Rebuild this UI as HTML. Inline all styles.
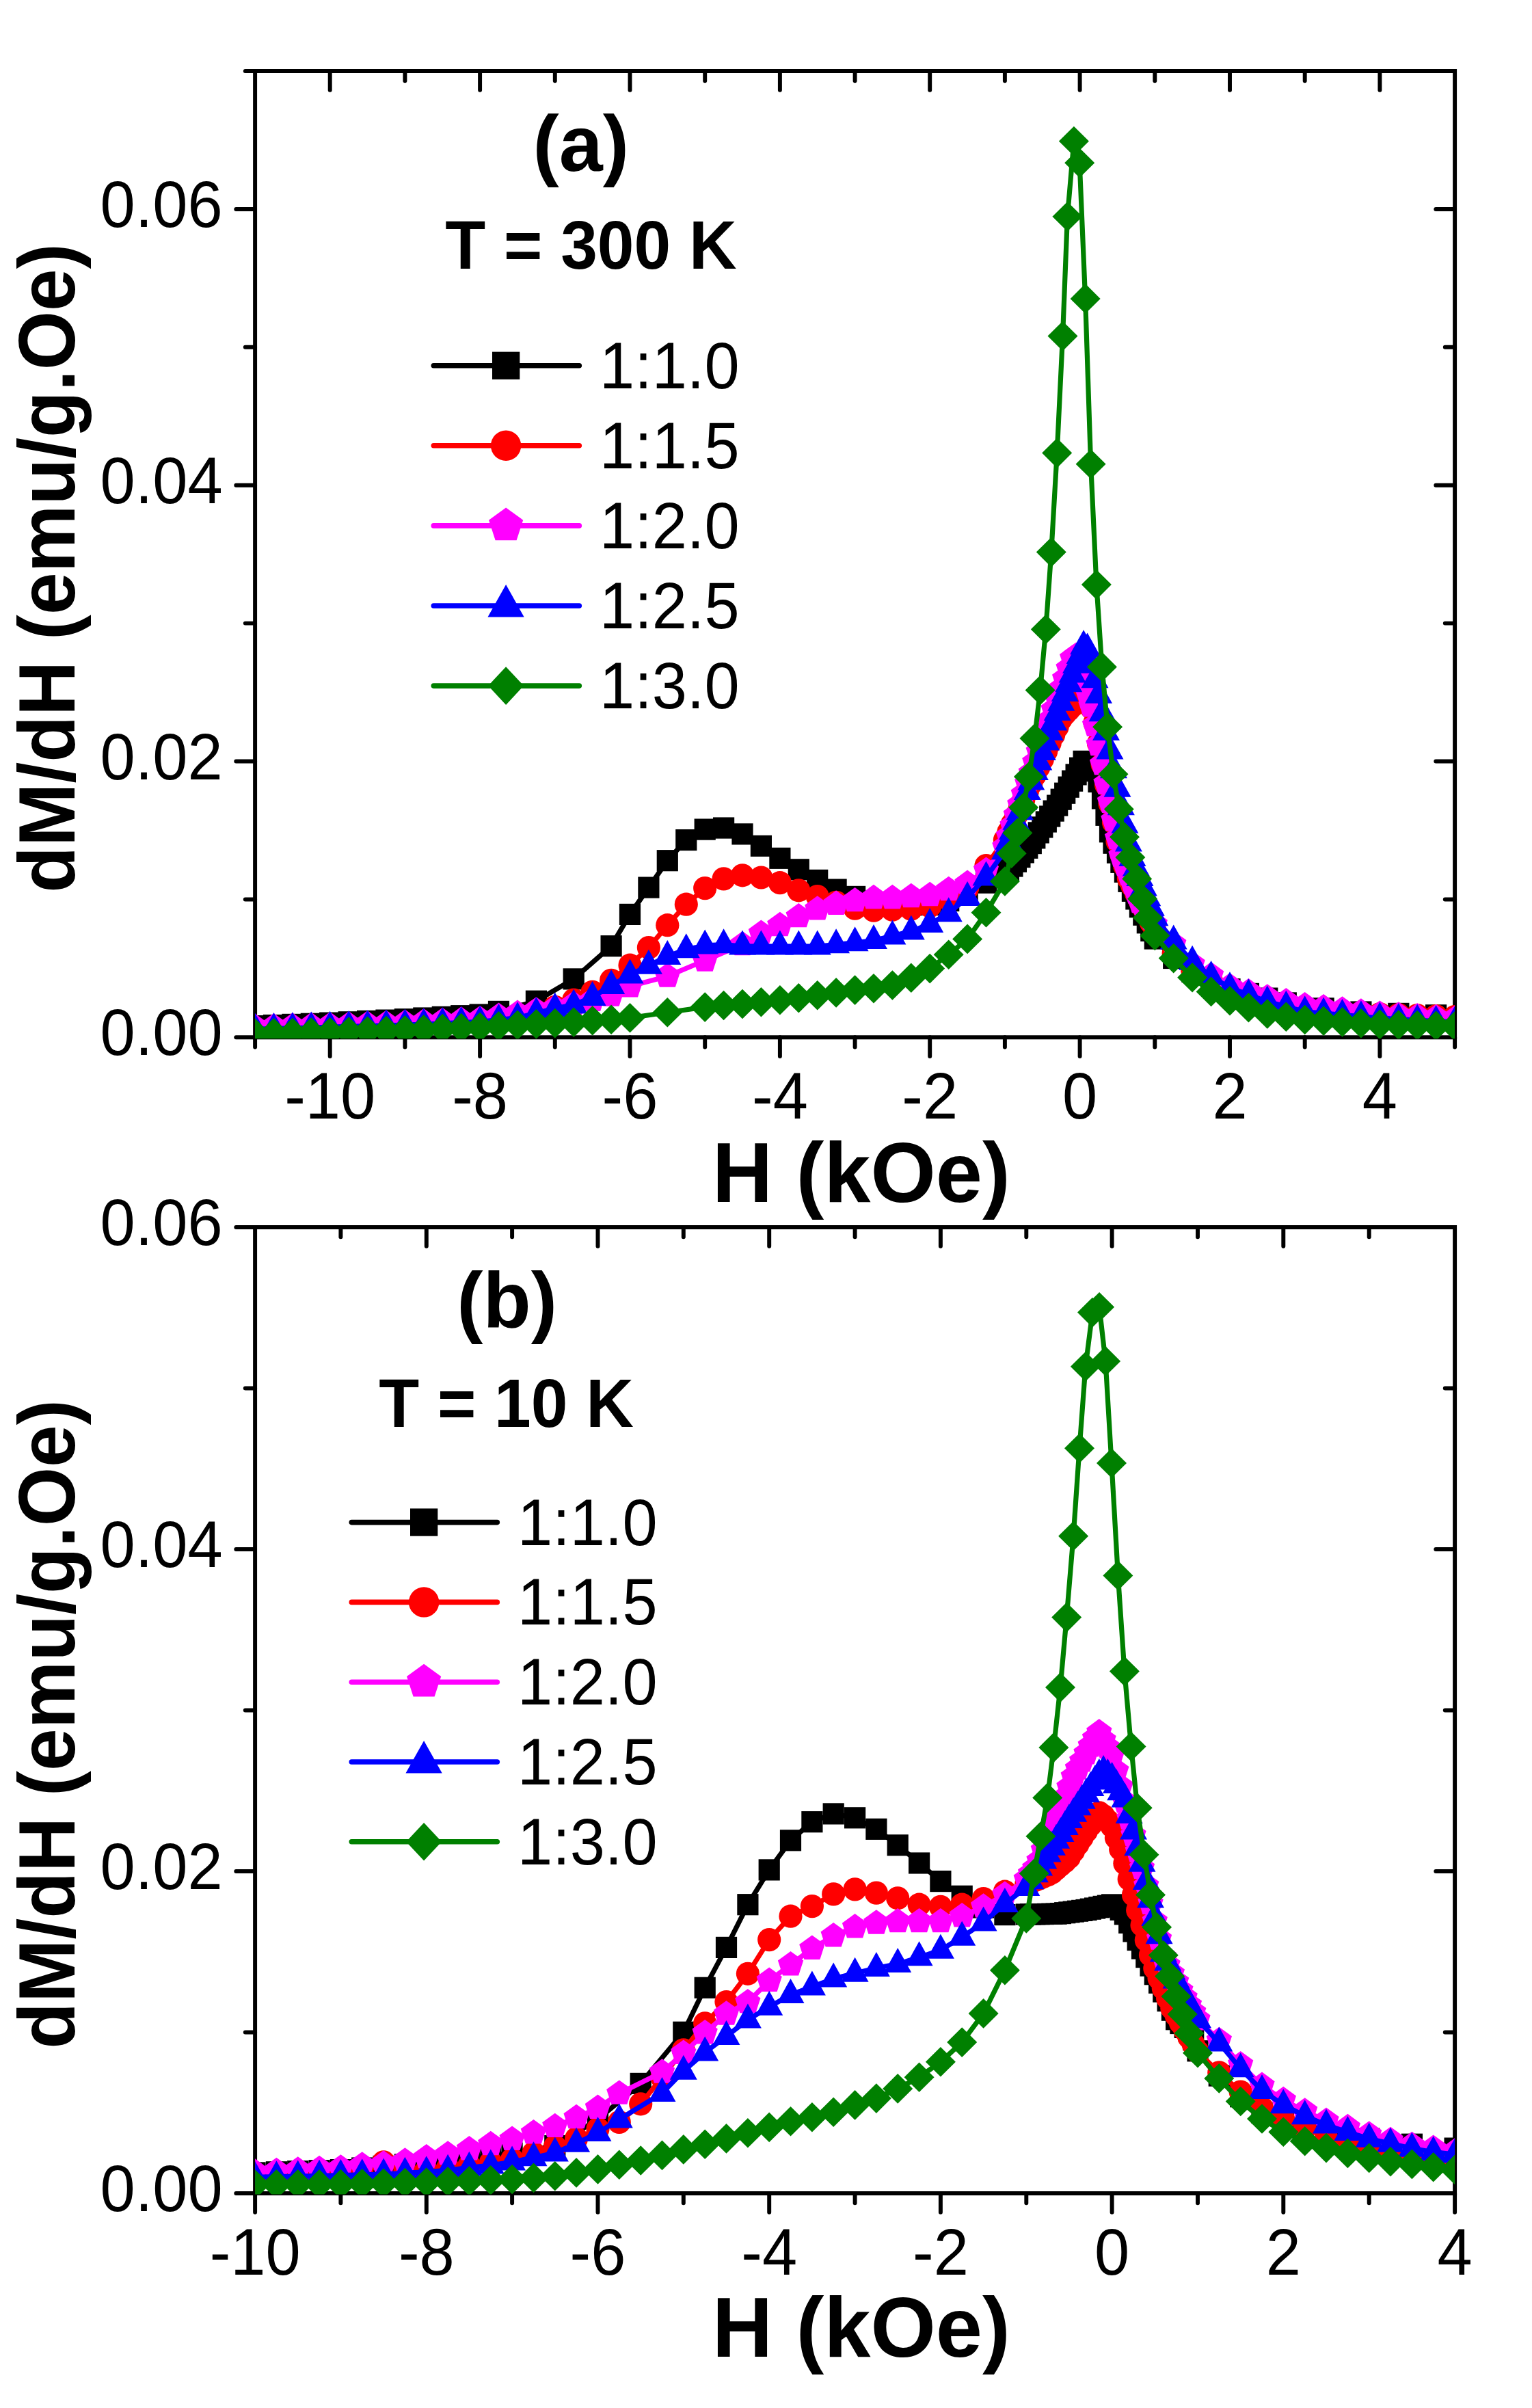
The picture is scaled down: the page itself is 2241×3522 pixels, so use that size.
<!DOCTYPE html>
<html lang="en">
<head>
<meta charset="utf-8">
<title>dM/dH vs H</title>
<style>
html,body{margin:0;padding:0;background:#fff;}
body{width:2241px;height:3522px;overflow:hidden;}
svg{display:block;}
text{font-family:"Liberation Sans",Arial,Helvetica,sans-serif;fill:#000;}
.tl{font-size:92px;}
.xt{font-size:122.6px;font-weight:bold;}
.yt{font-size:111px;font-weight:bold;}
.pl{font-size:115px;font-weight:bold;}
.tt{font-size:96.5px;font-weight:bold;}
</style>
</head>
<body>
<svg width="2241" height="3522" viewBox="0 0 2241 3522">
<rect width="2241" height="3522" fill="#fff"/>
<g stroke="#000" stroke-width="5.95" stroke-linecap="round" fill="none">
<path d="M373.1 104H2128.1V1517.3H373.1Z" stroke-linejoin="miter" stroke-linecap="butt"/>
<path d="M373.1 1517.3v14.3"/>
<path d="M482.7 1517.3v27.8"/>
<path d="M482.7 104v27.8"/>
<path d="M592.4 1517.3v14.3"/>
<path d="M592.4 104v14.3"/>
<path d="M702.1 1517.3v27.8"/>
<path d="M702.1 104v27.8"/>
<path d="M811.8 1517.3v14.3"/>
<path d="M811.8 104v14.3"/>
<path d="M921.5 1517.3v27.8"/>
<path d="M921.5 104v27.8"/>
<path d="M1031.2 1517.3v14.3"/>
<path d="M1031.2 104v14.3"/>
<path d="M1140.9 1517.3v27.8"/>
<path d="M1140.9 104v27.8"/>
<path d="M1250.6 1517.3v14.3"/>
<path d="M1250.6 104v14.3"/>
<path d="M1360.2 1517.3v27.8"/>
<path d="M1360.2 104v27.8"/>
<path d="M1469.9 1517.3v14.3"/>
<path d="M1469.9 104v14.3"/>
<path d="M1579.6 1517.3v27.8"/>
<path d="M1579.6 104v27.8"/>
<path d="M1689.3 1517.3v14.3"/>
<path d="M1689.3 104v14.3"/>
<path d="M1799 1517.3v27.8"/>
<path d="M1799 104v27.8"/>
<path d="M1908.7 1517.3v14.3"/>
<path d="M1908.7 104v14.3"/>
<path d="M2018.4 1517.3v27.8"/>
<path d="M2018.4 104v27.8"/>
<path d="M2128.1 1517.3v14.3"/>
<path d="M373.1 1517.3h-27.8"/>
<path d="M373.1 1315.4h-14.3"/>
<path d="M2128.1 1315.4h-14.3"/>
<path d="M373.1 1113.5h-27.8"/>
<path d="M2128.1 1113.5h-27.8"/>
<path d="M373.1 911.6h-14.3"/>
<path d="M2128.1 911.6h-14.3"/>
<path d="M373.1 709.7h-27.8"/>
<path d="M2128.1 709.7h-27.8"/>
<path d="M373.1 507.8h-14.3"/>
<path d="M2128.1 507.8h-14.3"/>
<path d="M373.1 305.9h-27.8"/>
<path d="M2128.1 305.9h-27.8"/>
<path d="M373.1 104h-14.3"/>
</g>
<clipPath id="clipa"><rect x="373.1" y="104" width="1755" height="1414.9"/></clipPath>
<g clip-path="url(#clipa)">
<g fill="#000000" stroke="none">
<polyline fill="none" stroke="#000000" stroke-width="7.2" stroke-linejoin="round" points="345.6,1501.6 373.1,1500.6 400.5,1499.5 427.9,1498.4 455.3,1497.3 482.7,1496.1 510.2,1494.8 537.6,1493.4 565,1492.1 592.4,1490.7 619.8,1489 647.3,1487.4 674.7,1485.7 702.1,1484 729.5,1479.4 784.4,1464.2 839.2,1431.9 894.1,1383.7 921.5,1337.4 948.9,1298.1 976.3,1258.7 1003.8,1228.6 1031.2,1213.1 1058.6,1211 1086,1219.9 1113.4,1237.3 1140.9,1255.3 1168.3,1271.8 1195.7,1287.4 1223.1,1301.1 1250.6,1311.4 1278,1321.5 1305.4,1323.5 1332.8,1323.5 1360.2,1323.5 1387.7,1317.5 1415.1,1307.4 1442.5,1291.2 1469.9,1279.1 1475.4,1273 1480.9,1267 1486.4,1260.3 1491.9,1253.6 1497.3,1246.9 1502.8,1240.3 1508.3,1233.6 1513.8,1225.8 1519.3,1217.9 1524.8,1209.9 1530.3,1202 1535.7,1194 1541.2,1186.1 1546.7,1178.1 1552.2,1169.2 1557.7,1160.2 1563.2,1151.2 1568.6,1142.2 1574.1,1132.9 1579.6,1123.2 1585.1,1113.4 1590.6,1114.2 1596.1,1117.6 1601.5,1127.7 1607,1143.5 1612.5,1167.9 1618,1192.3 1623.5,1216.7 1629,1233.2 1634.5,1247.2 1639.9,1261.3 1645.4,1275.3 1650.9,1289.3 1656.4,1303.3 1661.9,1314.9 1667.4,1326.6 1672.8,1338.2 1678.3,1349.8 1683.8,1361.4 1689.3,1373 1716.7,1401.5 1744.1,1421.6 1771.6,1434.3 1799,1446.7 1826.4,1453.4 1853.8,1460.1 1881.3,1466.9 1936.1,1474.8 1990.9,1480 2045.8,1482.4 2100.6,1484.8 2155.5,1486.6"/>
<rect x="330" y="1486" width="31.2" height="31.2"/>
<rect x="357.4" y="1485" width="31.2" height="31.2"/>
<rect x="384.9" y="1483.9" width="31.2" height="31.2"/>
<rect x="412.3" y="1482.8" width="31.2" height="31.2"/>
<rect x="439.7" y="1481.7" width="31.2" height="31.2"/>
<rect x="467.1" y="1480.5" width="31.2" height="31.2"/>
<rect x="494.6" y="1479.2" width="31.2" height="31.2"/>
<rect x="522" y="1477.8" width="31.2" height="31.2"/>
<rect x="549.4" y="1476.5" width="31.2" height="31.2"/>
<rect x="576.8" y="1475.1" width="31.2" height="31.2"/>
<rect x="604.2" y="1473.4" width="31.2" height="31.2"/>
<rect x="631.7" y="1471.8" width="31.2" height="31.2"/>
<rect x="659.1" y="1470.1" width="31.2" height="31.2"/>
<rect x="686.5" y="1468.4" width="31.2" height="31.2"/>
<rect x="713.9" y="1463.8" width="31.2" height="31.2"/>
<rect x="768.8" y="1448.6" width="31.2" height="31.2"/>
<rect x="823.6" y="1416.3" width="31.2" height="31.2"/>
<rect x="878.5" y="1368.1" width="31.2" height="31.2"/>
<rect x="905.9" y="1321.8" width="31.2" height="31.2"/>
<rect x="933.3" y="1282.5" width="31.2" height="31.2"/>
<rect x="960.7" y="1243.1" width="31.2" height="31.2"/>
<rect x="988.2" y="1213" width="31.2" height="31.2"/>
<rect x="1015.6" y="1197.5" width="31.2" height="31.2"/>
<rect x="1043" y="1195.4" width="31.2" height="31.2"/>
<rect x="1070.4" y="1204.3" width="31.2" height="31.2"/>
<rect x="1097.8" y="1221.7" width="31.2" height="31.2"/>
<rect x="1125.3" y="1239.7" width="31.2" height="31.2"/>
<rect x="1152.7" y="1256.2" width="31.2" height="31.2"/>
<rect x="1180.1" y="1271.8" width="31.2" height="31.2"/>
<rect x="1207.5" y="1285.5" width="31.2" height="31.2"/>
<rect x="1235" y="1295.8" width="31.2" height="31.2"/>
<rect x="1262.4" y="1305.9" width="31.2" height="31.2"/>
<rect x="1289.8" y="1307.9" width="31.2" height="31.2"/>
<rect x="1317.2" y="1307.9" width="31.2" height="31.2"/>
<rect x="1344.6" y="1307.9" width="31.2" height="31.2"/>
<rect x="1372.1" y="1301.9" width="31.2" height="31.2"/>
<rect x="1399.5" y="1291.8" width="31.2" height="31.2"/>
<rect x="1426.9" y="1275.6" width="31.2" height="31.2"/>
<rect x="1454.3" y="1263.5" width="31.2" height="31.2"/>
<rect x="1459.8" y="1257.4" width="31.2" height="31.2"/>
<rect x="1465.3" y="1251.4" width="31.2" height="31.2"/>
<rect x="1470.8" y="1244.7" width="31.2" height="31.2"/>
<rect x="1476.3" y="1238" width="31.2" height="31.2"/>
<rect x="1481.7" y="1231.3" width="31.2" height="31.2"/>
<rect x="1487.2" y="1224.7" width="31.2" height="31.2"/>
<rect x="1492.7" y="1218" width="31.2" height="31.2"/>
<rect x="1498.2" y="1210.2" width="31.2" height="31.2"/>
<rect x="1503.7" y="1202.3" width="31.2" height="31.2"/>
<rect x="1509.2" y="1194.3" width="31.2" height="31.2"/>
<rect x="1514.7" y="1186.4" width="31.2" height="31.2"/>
<rect x="1520.1" y="1178.4" width="31.2" height="31.2"/>
<rect x="1525.6" y="1170.5" width="31.2" height="31.2"/>
<rect x="1531.1" y="1162.5" width="31.2" height="31.2"/>
<rect x="1536.6" y="1153.6" width="31.2" height="31.2"/>
<rect x="1542.1" y="1144.6" width="31.2" height="31.2"/>
<rect x="1547.6" y="1135.6" width="31.2" height="31.2"/>
<rect x="1553" y="1126.6" width="31.2" height="31.2"/>
<rect x="1558.5" y="1117.3" width="31.2" height="31.2"/>
<rect x="1564" y="1107.6" width="31.2" height="31.2"/>
<rect x="1569.5" y="1097.8" width="31.2" height="31.2"/>
<rect x="1575" y="1098.6" width="31.2" height="31.2"/>
<rect x="1580.5" y="1102" width="31.2" height="31.2"/>
<rect x="1586" y="1112.1" width="31.2" height="31.2"/>
<rect x="1591.4" y="1127.9" width="31.2" height="31.2"/>
<rect x="1596.9" y="1152.3" width="31.2" height="31.2"/>
<rect x="1602.4" y="1176.7" width="31.2" height="31.2"/>
<rect x="1607.9" y="1201.1" width="31.2" height="31.2"/>
<rect x="1613.4" y="1217.6" width="31.2" height="31.2"/>
<rect x="1618.9" y="1231.6" width="31.2" height="31.2"/>
<rect x="1624.3" y="1245.7" width="31.2" height="31.2"/>
<rect x="1629.8" y="1259.7" width="31.2" height="31.2"/>
<rect x="1635.3" y="1273.7" width="31.2" height="31.2"/>
<rect x="1640.8" y="1287.7" width="31.2" height="31.2"/>
<rect x="1646.3" y="1299.3" width="31.2" height="31.2"/>
<rect x="1651.8" y="1311" width="31.2" height="31.2"/>
<rect x="1657.2" y="1322.6" width="31.2" height="31.2"/>
<rect x="1662.7" y="1334.2" width="31.2" height="31.2"/>
<rect x="1668.2" y="1345.8" width="31.2" height="31.2"/>
<rect x="1673.7" y="1357.4" width="31.2" height="31.2"/>
<rect x="1701.1" y="1385.9" width="31.2" height="31.2"/>
<rect x="1728.5" y="1406" width="31.2" height="31.2"/>
<rect x="1756" y="1418.7" width="31.2" height="31.2"/>
<rect x="1783.4" y="1431.1" width="31.2" height="31.2"/>
<rect x="1810.8" y="1437.8" width="31.2" height="31.2"/>
<rect x="1838.2" y="1444.5" width="31.2" height="31.2"/>
<rect x="1865.7" y="1451.3" width="31.2" height="31.2"/>
<rect x="1920.5" y="1459.2" width="31.2" height="31.2"/>
<rect x="1975.3" y="1464.4" width="31.2" height="31.2"/>
<rect x="2030.2" y="1466.8" width="31.2" height="31.2"/>
<rect x="2085" y="1469.2" width="31.2" height="31.2"/>
<rect x="2139.9" y="1471" width="31.2" height="31.2"/>
</g>
<g fill="#ff0000" stroke="none">
<polyline fill="none" stroke="#ff0000" stroke-width="7.2" stroke-linejoin="round" points="373.1,1507.3 400.5,1506.7 427.9,1506.2 455.3,1505.7 482.7,1505.2 510.2,1504.2 537.6,1503.2 565,1502.2 592.4,1501.2 619.8,1499.7 647.3,1498.2 674.7,1496.7 702.1,1495.1 729.5,1490.1 757,1485 784.4,1479 811.8,1472.9 839.2,1462.6 866.6,1450.9 894.1,1433.8 921.5,1411.7 948.9,1386.1 976.3,1353.2 1003.8,1322.7 1031.2,1299.1 1058.6,1285.4 1086,1280.3 1113.4,1283.5 1140.9,1291.2 1168.3,1302.3 1195.7,1311 1223.1,1319.9 1250.6,1328.6 1278,1331.6 1305.4,1330.6 1332.8,1329.6 1360.2,1325.5 1387.7,1315.4 1415.1,1299.3 1442.5,1266 1469.9,1228.6 1475.4,1216.8 1480.9,1205 1486.4,1193.1 1491.9,1181.3 1497.3,1169.5 1502.8,1157.7 1508.3,1145.9 1513.8,1134 1519.3,1122.2 1524.8,1110.4 1530.3,1098.6 1535.7,1086.7 1541.2,1074.9 1546.7,1063.1 1552.2,1051.3 1557.7,1044.2 1563.2,1038.4 1568.6,1032.6 1574.1,1026.8 1579.6,1021 1585.1,1016.4 1590.6,1012.6 1596.1,1034.8 1601.5,1057 1607,1087.3 1612.5,1117.6 1618,1147.8 1623.5,1175.4 1629,1203 1634.5,1230.6 1639.9,1248.8 1645.4,1267 1650.9,1285.1 1656.4,1295.8 1661.9,1306.5 1667.4,1317.2 1672.8,1327.8 1678.3,1338.5 1683.8,1349.2 1689.3,1359.9 1716.7,1394.2 1744.1,1418.4 1771.6,1433.6 1799,1448.7 1826.4,1455.3 1853.8,1461.8 1881.3,1468.4 1908.7,1474.9 1936.1,1477 1963.5,1479 1990.9,1481 2018.4,1483 2045.8,1484 2073.2,1485 2100.6,1486.1 2128.1,1487.1"/>
<circle cx="373.1" cy="1507.3" r="17.1"/>
<circle cx="400.5" cy="1506.7" r="17.1"/>
<circle cx="427.9" cy="1506.2" r="17.1"/>
<circle cx="455.3" cy="1505.7" r="17.1"/>
<circle cx="482.7" cy="1505.2" r="17.1"/>
<circle cx="510.2" cy="1504.2" r="17.1"/>
<circle cx="537.6" cy="1503.2" r="17.1"/>
<circle cx="565" cy="1502.2" r="17.1"/>
<circle cx="592.4" cy="1501.2" r="17.1"/>
<circle cx="619.8" cy="1499.7" r="17.1"/>
<circle cx="647.3" cy="1498.2" r="17.1"/>
<circle cx="674.7" cy="1496.7" r="17.1"/>
<circle cx="702.1" cy="1495.1" r="17.1"/>
<circle cx="729.5" cy="1490.1" r="17.1"/>
<circle cx="757" cy="1485" r="17.1"/>
<circle cx="784.4" cy="1479" r="17.1"/>
<circle cx="811.8" cy="1472.9" r="17.1"/>
<circle cx="839.2" cy="1462.6" r="17.1"/>
<circle cx="866.6" cy="1450.9" r="17.1"/>
<circle cx="894.1" cy="1433.8" r="17.1"/>
<circle cx="921.5" cy="1411.7" r="17.1"/>
<circle cx="948.9" cy="1386.1" r="17.1"/>
<circle cx="976.3" cy="1353.2" r="17.1"/>
<circle cx="1003.8" cy="1322.7" r="17.1"/>
<circle cx="1031.2" cy="1299.1" r="17.1"/>
<circle cx="1058.6" cy="1285.4" r="17.1"/>
<circle cx="1086" cy="1280.3" r="17.1"/>
<circle cx="1113.4" cy="1283.5" r="17.1"/>
<circle cx="1140.9" cy="1291.2" r="17.1"/>
<circle cx="1168.3" cy="1302.3" r="17.1"/>
<circle cx="1195.7" cy="1311" r="17.1"/>
<circle cx="1223.1" cy="1319.9" r="17.1"/>
<circle cx="1250.6" cy="1328.6" r="17.1"/>
<circle cx="1278" cy="1331.6" r="17.1"/>
<circle cx="1305.4" cy="1330.6" r="17.1"/>
<circle cx="1332.8" cy="1329.6" r="17.1"/>
<circle cx="1360.2" cy="1325.5" r="17.1"/>
<circle cx="1387.7" cy="1315.4" r="17.1"/>
<circle cx="1415.1" cy="1299.3" r="17.1"/>
<circle cx="1442.5" cy="1266" r="17.1"/>
<circle cx="1469.9" cy="1228.6" r="17.1"/>
<circle cx="1475.4" cy="1216.8" r="17.1"/>
<circle cx="1480.9" cy="1205" r="17.1"/>
<circle cx="1486.4" cy="1193.1" r="17.1"/>
<circle cx="1491.9" cy="1181.3" r="17.1"/>
<circle cx="1497.3" cy="1169.5" r="17.1"/>
<circle cx="1502.8" cy="1157.7" r="17.1"/>
<circle cx="1508.3" cy="1145.9" r="17.1"/>
<circle cx="1513.8" cy="1134" r="17.1"/>
<circle cx="1519.3" cy="1122.2" r="17.1"/>
<circle cx="1524.8" cy="1110.4" r="17.1"/>
<circle cx="1530.3" cy="1098.6" r="17.1"/>
<circle cx="1535.7" cy="1086.7" r="17.1"/>
<circle cx="1541.2" cy="1074.9" r="17.1"/>
<circle cx="1546.7" cy="1063.1" r="17.1"/>
<circle cx="1552.2" cy="1051.3" r="17.1"/>
<circle cx="1557.7" cy="1044.2" r="17.1"/>
<circle cx="1563.2" cy="1038.4" r="17.1"/>
<circle cx="1568.6" cy="1032.6" r="17.1"/>
<circle cx="1574.1" cy="1026.8" r="17.1"/>
<circle cx="1579.6" cy="1021" r="17.1"/>
<circle cx="1585.1" cy="1016.4" r="17.1"/>
<circle cx="1590.6" cy="1012.6" r="17.1"/>
<circle cx="1596.1" cy="1034.8" r="17.1"/>
<circle cx="1601.5" cy="1057" r="17.1"/>
<circle cx="1607" cy="1087.3" r="17.1"/>
<circle cx="1612.5" cy="1117.6" r="17.1"/>
<circle cx="1618" cy="1147.8" r="17.1"/>
<circle cx="1623.5" cy="1175.4" r="17.1"/>
<circle cx="1629" cy="1203" r="17.1"/>
<circle cx="1634.5" cy="1230.6" r="17.1"/>
<circle cx="1639.9" cy="1248.8" r="17.1"/>
<circle cx="1645.4" cy="1267" r="17.1"/>
<circle cx="1650.9" cy="1285.1" r="17.1"/>
<circle cx="1656.4" cy="1295.8" r="17.1"/>
<circle cx="1661.9" cy="1306.5" r="17.1"/>
<circle cx="1667.4" cy="1317.2" r="17.1"/>
<circle cx="1672.8" cy="1327.8" r="17.1"/>
<circle cx="1678.3" cy="1338.5" r="17.1"/>
<circle cx="1683.8" cy="1349.2" r="17.1"/>
<circle cx="1689.3" cy="1359.9" r="17.1"/>
<circle cx="1716.7" cy="1394.2" r="17.1"/>
<circle cx="1744.1" cy="1418.4" r="17.1"/>
<circle cx="1771.6" cy="1433.6" r="17.1"/>
<circle cx="1799" cy="1448.7" r="17.1"/>
<circle cx="1826.4" cy="1455.3" r="17.1"/>
<circle cx="1853.8" cy="1461.8" r="17.1"/>
<circle cx="1881.3" cy="1468.4" r="17.1"/>
<circle cx="1908.7" cy="1474.9" r="17.1"/>
<circle cx="1936.1" cy="1477" r="17.1"/>
<circle cx="1963.5" cy="1479" r="17.1"/>
<circle cx="1990.9" cy="1481" r="17.1"/>
<circle cx="2018.4" cy="1483" r="17.1"/>
<circle cx="2045.8" cy="1484" r="17.1"/>
<circle cx="2073.2" cy="1485" r="17.1"/>
<circle cx="2100.6" cy="1486.1" r="17.1"/>
<circle cx="2128.1" cy="1487.1" r="17.1"/>
</g>
<g fill="#ff00ff" stroke="none">
<polyline fill="none" stroke="#ff00ff" stroke-width="7.2" stroke-linejoin="round" points="373.1,1502.2 400.5,1501.6 427.9,1500.9 455.3,1500.2 482.7,1499.6 510.2,1498.7 537.6,1497.9 565,1497 592.4,1496.1 619.8,1494.7 647.3,1493.3 674.7,1491.9 702.1,1490.5 729.5,1486.1 757,1482.2 784.4,1477.8 811.8,1474.3 839.2,1468.9 866.6,1463.2 894.1,1456 921.5,1442.6 976.3,1427.9 1031.2,1404.9 1086,1381.5 1113.4,1365.1 1140.9,1353.4 1168.3,1340.5 1195.7,1329.8 1223.1,1322.1 1250.6,1317.5 1278,1313.4 1305.4,1313.4 1332.8,1311.4 1360.2,1309.4 1387.7,1301.3 1415.1,1292.2 1442.5,1273 1469.9,1238.7 1475.4,1223.3 1480.9,1207.8 1486.4,1192.4 1491.9,1176.9 1497.3,1161.5 1502.8,1146.1 1508.3,1130.6 1513.8,1115.2 1519.3,1099.7 1524.8,1084.3 1530.3,1068.8 1535.7,1053.4 1541.2,1038 1546.7,1022.6 1552.2,1007.7 1557.7,992.8 1563.2,977.9 1568.6,963 1574.1,959.2 1579.6,972.2 1585.1,992.4 1590.6,1012.6 1596.1,1032.8 1601.5,1061.1 1607,1089.4 1612.5,1117.7 1618,1146 1623.5,1173.1 1629,1199.7 1634.5,1226.3 1639.9,1251.9 1645.4,1265.4 1650.9,1278.9 1656.4,1292.4 1661.9,1306 1667.4,1319.5 1672.8,1327.6 1678.3,1335.6 1683.8,1343.7 1689.3,1351.8 1716.7,1381.1 1744.1,1410.3 1771.6,1426.5 1799,1442.6 1826.4,1450.7 1853.8,1458.8 1881.3,1464.7 1908.7,1470.5 1936.1,1473.6 1963.5,1476.8 1990.9,1479.9 2018.4,1483 2045.8,1484.8 2073.2,1486.6 2100.6,1488.3 2128.1,1490.1"/>
<polygon points="373.1,1482.6 391.7,1496.1 384.6,1518.1 361.5,1518.1 354.4,1496.1"/>
<polygon points="400.5,1482 419.1,1495.5 412,1517.4 389,1517.4 381.8,1495.5"/>
<polygon points="427.9,1481.3 446.5,1494.8 439.4,1516.8 416.4,1516.8 409.3,1494.8"/>
<polygon points="455.3,1480.6 474,1494.2 466.8,1516.1 443.8,1516.1 436.7,1494.2"/>
<polygon points="482.7,1480 501.4,1493.5 494.3,1515.4 471.2,1515.4 464.1,1493.5"/>
<polygon points="510.2,1479.1 528.8,1492.7 521.7,1514.6 498.6,1514.6 491.5,1492.7"/>
<polygon points="537.6,1478.3 556.2,1491.8 549.1,1513.7 526.1,1513.7 518.9,1491.8"/>
<polygon points="565,1477.4 583.6,1491 576.5,1512.9 553.5,1512.9 546.4,1491"/>
<polygon points="592.4,1476.5 611.1,1490.1 603.9,1512 580.9,1512 573.8,1490.1"/>
<polygon points="619.8,1475.1 638.5,1488.7 631.4,1510.6 608.3,1510.6 601.2,1488.7"/>
<polygon points="647.3,1473.7 665.9,1487.3 658.8,1509.2 635.7,1509.2 628.6,1487.3"/>
<polygon points="674.7,1472.3 693.3,1485.9 686.2,1507.8 663.2,1507.8 656,1485.9"/>
<polygon points="702.1,1470.9 720.8,1484.4 713.6,1506.4 690.6,1506.4 683.5,1484.4"/>
<polygon points="729.5,1466.5 748.2,1480 741.1,1501.9 718,1501.9 710.9,1480"/>
<polygon points="757,1462.6 775.6,1476.2 768.5,1498.1 745.4,1498.1 738.3,1476.2"/>
<polygon points="784.4,1458.2 803,1471.7 795.9,1493.6 772.9,1493.6 765.7,1471.7"/>
<polygon points="811.8,1454.7 830.4,1468.3 823.3,1490.2 800.3,1490.2 793.2,1468.3"/>
<polygon points="839.2,1449.3 857.9,1462.8 850.7,1484.7 827.7,1484.7 820.6,1462.8"/>
<polygon points="866.6,1443.6 885.3,1457.2 878.2,1479.1 855.1,1479.1 848,1457.2"/>
<polygon points="894.1,1436.4 912.7,1449.9 905.6,1471.8 882.5,1471.8 875.4,1449.9"/>
<polygon points="921.5,1423 940.1,1436.6 933,1458.5 910,1458.5 902.8,1436.6"/>
<polygon points="976.3,1408.3 995,1421.8 987.9,1443.8 964.8,1443.8 957.7,1421.8"/>
<polygon points="1031.2,1385.3 1049.8,1398.8 1042.7,1420.7 1019.7,1420.7 1012.5,1398.8"/>
<polygon points="1086,1361.9 1104.7,1375.4 1097.5,1397.3 1074.5,1397.3 1067.4,1375.4"/>
<polygon points="1113.4,1345.5 1132.1,1359 1125,1381 1101.9,1381 1094.8,1359"/>
<polygon points="1140.9,1333.8 1159.5,1347.3 1152.4,1369.3 1129.3,1369.3 1122.2,1347.3"/>
<polygon points="1168.3,1320.9 1186.9,1334.4 1179.8,1356.3 1156.8,1356.3 1149.6,1334.4"/>
<polygon points="1195.7,1310.2 1214.3,1323.7 1207.2,1345.6 1184.2,1345.6 1177.1,1323.7"/>
<polygon points="1223.1,1302.5 1241.8,1316 1234.6,1338 1211.6,1338 1204.5,1316"/>
<polygon points="1250.6,1297.9 1269.2,1311.4 1262.1,1333.3 1239,1333.3 1231.9,1311.4"/>
<polygon points="1278,1293.8 1296.6,1307.4 1289.5,1329.3 1266.5,1329.3 1259.3,1307.4"/>
<polygon points="1305.4,1293.8 1324,1307.4 1316.9,1329.3 1293.9,1329.3 1286.8,1307.4"/>
<polygon points="1332.8,1291.8 1351.5,1305.3 1344.3,1327.3 1321.3,1327.3 1314.2,1305.3"/>
<polygon points="1360.2,1289.8 1378.9,1303.3 1371.8,1325.2 1348.7,1325.2 1341.6,1303.3"/>
<polygon points="1387.7,1281.7 1406.3,1295.2 1399.2,1317.2 1376.1,1317.2 1369,1295.2"/>
<polygon points="1415.1,1272.6 1433.7,1286.2 1426.6,1308.1 1403.6,1308.1 1396.4,1286.2"/>
<polygon points="1442.5,1253.4 1461.1,1267 1454,1288.9 1431,1288.9 1423.9,1267"/>
<polygon points="1469.9,1219.1 1488.6,1232.7 1481.4,1254.6 1458.4,1254.6 1451.3,1232.7"/>
<polygon points="1475.4,1203.7 1494.1,1217.2 1486.9,1239.1 1463.9,1239.1 1456.8,1217.2"/>
<polygon points="1480.9,1188.2 1499.5,1201.8 1492.4,1223.7 1469.4,1223.7 1462.3,1201.8"/>
<polygon points="1486.4,1172.8 1505,1186.3 1497.9,1208.2 1474.9,1208.2 1467.7,1186.3"/>
<polygon points="1491.9,1157.3 1510.5,1170.9 1503.4,1192.8 1480.3,1192.8 1473.2,1170.9"/>
<polygon points="1497.3,1141.9 1516,1155.4 1508.9,1177.4 1485.8,1177.4 1478.7,1155.4"/>
<polygon points="1502.8,1126.5 1521.5,1140 1514.4,1161.9 1491.3,1161.9 1484.2,1140"/>
<polygon points="1508.3,1111 1527,1124.6 1519.8,1146.5 1496.8,1146.5 1489.7,1124.6"/>
<polygon points="1513.8,1095.6 1532.4,1109.1 1525.3,1131 1502.3,1131 1495.2,1109.1"/>
<polygon points="1519.3,1080.1 1537.9,1093.7 1530.8,1115.6 1507.8,1115.6 1500.6,1093.7"/>
<polygon points="1524.8,1064.7 1543.4,1078.2 1536.3,1100.1 1513.2,1100.1 1506.1,1078.2"/>
<polygon points="1530.3,1049.2 1548.9,1062.8 1541.8,1084.7 1518.7,1084.7 1511.6,1062.8"/>
<polygon points="1535.7,1033.8 1554.4,1047.3 1547.3,1069.3 1524.2,1069.3 1517.1,1047.3"/>
<polygon points="1541.2,1018.4 1559.9,1031.9 1552.7,1053.8 1529.7,1053.8 1522.6,1031.9"/>
<polygon points="1546.7,1003 1565.3,1016.5 1558.2,1038.4 1535.2,1038.4 1528.1,1016.5"/>
<polygon points="1552.2,988.1 1570.8,1001.6 1563.7,1023.5 1540.7,1023.5 1533.5,1001.6"/>
<polygon points="1557.7,973.2 1576.3,986.7 1569.2,1008.6 1546.2,1008.6 1539,986.7"/>
<polygon points="1563.2,958.3 1581.8,971.8 1574.7,993.7 1551.6,993.7 1544.5,971.8"/>
<polygon points="1568.6,943.4 1587.3,956.9 1580.2,978.8 1557.1,978.8 1550,956.9"/>
<polygon points="1574.1,939.6 1592.8,953.1 1585.6,975.1 1562.6,975.1 1555.5,953.1"/>
<polygon points="1579.6,952.6 1598.3,966.1 1591.1,988 1568.1,988 1561,966.1"/>
<polygon points="1585.1,972.8 1603.7,986.3 1596.6,1008.2 1573.6,1008.2 1566.5,986.3"/>
<polygon points="1590.6,993 1609.2,1006.5 1602.1,1028.4 1579.1,1028.4 1571.9,1006.5"/>
<polygon points="1596.1,1013.2 1614.7,1026.7 1607.6,1048.6 1584.5,1048.6 1577.4,1026.7"/>
<polygon points="1601.5,1041.5 1620.2,1055 1613.1,1076.9 1590,1076.9 1582.9,1055"/>
<polygon points="1607,1069.8 1625.7,1083.3 1618.6,1105.2 1595.5,1105.2 1588.4,1083.3"/>
<polygon points="1612.5,1098.1 1631.2,1111.6 1624,1133.5 1601,1133.5 1593.9,1111.6"/>
<polygon points="1618,1126.4 1636.6,1139.9 1629.5,1161.8 1606.5,1161.8 1599.4,1139.9"/>
<polygon points="1623.5,1153.5 1642.1,1167 1635,1188.9 1612,1188.9 1604.8,1167"/>
<polygon points="1629,1180.1 1647.6,1193.6 1640.5,1215.6 1617.5,1215.6 1610.3,1193.6"/>
<polygon points="1634.5,1206.7 1653.1,1220.3 1646,1242.2 1622.9,1242.2 1615.8,1220.3"/>
<polygon points="1639.9,1232.3 1658.6,1245.8 1651.5,1267.8 1628.4,1267.8 1621.3,1245.8"/>
<polygon points="1645.4,1245.8 1664.1,1259.4 1656.9,1281.3 1633.9,1281.3 1626.8,1259.4"/>
<polygon points="1650.9,1259.3 1669.6,1272.9 1662.4,1294.8 1639.4,1294.8 1632.3,1272.9"/>
<polygon points="1656.4,1272.8 1675,1286.4 1667.9,1308.3 1644.9,1308.3 1637.8,1286.4"/>
<polygon points="1661.9,1286.4 1680.5,1299.9 1673.4,1321.8 1650.4,1321.8 1643.2,1299.9"/>
<polygon points="1667.4,1299.9 1686,1313.4 1678.9,1335.3 1655.8,1335.3 1648.7,1313.4"/>
<polygon points="1672.8,1308 1691.5,1321.5 1684.4,1343.4 1661.3,1343.4 1654.2,1321.5"/>
<polygon points="1678.3,1316 1697,1329.6 1689.9,1351.5 1666.8,1351.5 1659.7,1329.6"/>
<polygon points="1683.8,1324.1 1702.5,1337.6 1695.3,1359.6 1672.3,1359.6 1665.2,1337.6"/>
<polygon points="1689.3,1332.2 1707.9,1345.7 1700.8,1367.6 1677.8,1367.6 1670.7,1345.7"/>
<polygon points="1716.7,1361.5 1735.4,1375 1728.2,1396.9 1705.2,1396.9 1698.1,1375"/>
<polygon points="1744.1,1390.7 1762.8,1404.3 1755.7,1426.2 1732.6,1426.2 1725.5,1404.3"/>
<polygon points="1771.6,1406.9 1790.2,1420.4 1783.1,1442.3 1760,1442.3 1752.9,1420.4"/>
<polygon points="1799,1423 1817.6,1436.6 1810.5,1458.5 1787.5,1458.5 1780.3,1436.6"/>
<polygon points="1826.4,1431.1 1845.1,1444.7 1837.9,1466.6 1814.9,1466.6 1807.8,1444.7"/>
<polygon points="1853.8,1439.2 1872.5,1452.7 1865.4,1474.7 1842.3,1474.7 1835.2,1452.7"/>
<polygon points="1881.3,1445.1 1899.9,1458.6 1892.8,1480.5 1869.7,1480.5 1862.6,1458.6"/>
<polygon points="1908.7,1450.9 1927.3,1464.4 1920.2,1486.4 1897.2,1486.4 1890,1464.4"/>
<polygon points="1936.1,1454 1954.7,1467.6 1947.6,1489.5 1924.6,1489.5 1917.5,1467.6"/>
<polygon points="1963.5,1457.2 1982.2,1470.7 1975,1492.6 1952,1492.6 1944.9,1470.7"/>
<polygon points="1990.9,1460.3 2009.6,1473.8 2002.5,1495.8 1979.4,1495.8 1972.3,1473.8"/>
<polygon points="2018.4,1463.4 2037,1477 2029.9,1498.9 2006.8,1498.9 1999.7,1477"/>
<polygon points="2045.8,1465.2 2064.4,1478.7 2057.3,1500.6 2034.3,1500.6 2027.1,1478.7"/>
<polygon points="2073.2,1467 2091.8,1480.5 2084.7,1502.4 2061.7,1502.4 2054.6,1480.5"/>
<polygon points="2100.6,1468.7 2119.3,1482.3 2112.1,1504.2 2089.1,1504.2 2082,1482.3"/>
<polygon points="2128.1,1470.5 2146.7,1484 2139.6,1505.9 2116.5,1505.9 2109.4,1484"/>
</g>
<g fill="#0000ff" stroke="none">
<polyline fill="none" stroke="#0000ff" stroke-width="7.2" stroke-linejoin="round" points="373.1,1505.2 400.5,1504.5 427.9,1503.7 455.3,1503 482.7,1502.2 510.2,1501.4 537.6,1500.7 565,1499.9 592.4,1499.2 619.8,1498 647.3,1496.8 674.7,1495.5 702.1,1494.3 729.5,1491.5 757,1488.7 784.4,1481.8 811.8,1474.9 839.2,1469.9 866.6,1458.4 894.1,1441.6 921.5,1425.9 948.9,1412.2 976.3,1398.6 1003.8,1388.7 1031.2,1382.9 1058.6,1381.7 1086,1384.1 1113.4,1384.1 1140.9,1384.1 1168.3,1384.1 1195.7,1384.1 1223.1,1381.7 1250.6,1378.8 1278,1375.6 1305.4,1369.1 1332.8,1362.1 1360.2,1351.6 1387.7,1335.8 1415.1,1312.4 1442.5,1282.9 1469.9,1244.8 1475.4,1230.2 1480.9,1215.7 1486.4,1201.2 1491.9,1186.7 1497.3,1172.2 1502.8,1157.6 1508.3,1143.1 1513.8,1128.6 1519.3,1114.1 1524.8,1099.6 1530.3,1085 1535.7,1070.5 1541.2,1056 1546.7,1041.5 1552.2,1027.3 1557.7,1013.5 1563.2,999.7 1568.6,986 1574.1,972.2 1579.6,958.5 1585.1,944.7 1590.6,949 1596.1,971.4 1601.5,993.8 1607,1016.2 1612.5,1042.8 1618,1070.4 1623.5,1098.1 1629,1125.7 1634.5,1153.2 1639.9,1179.7 1645.4,1206.3 1650.9,1232.9 1656.4,1254.6 1661.9,1269.1 1667.4,1283.6 1672.8,1298.1 1678.3,1312.7 1683.8,1327.2 1689.3,1341.7 1716.7,1376 1744.1,1406.3 1771.6,1428.5 1799,1444.7 1826.4,1454.8 1853.8,1464.9 1881.3,1472.3 1908.7,1479.8 1936.1,1482.1 1963.5,1484.4 1990.9,1486.8 2018.4,1489.1 2045.8,1490.5 2073.2,1492 2100.6,1493.5 2128.1,1494.9"/>
<polygon points="373.1,1481.7 393.1,1517.7 353.1,1517.7"/>
<polygon points="400.5,1481 420.5,1517 380.5,1517"/>
<polygon points="427.9,1480.2 447.9,1516.2 407.9,1516.2"/>
<polygon points="455.3,1479.5 475.3,1515.5 435.3,1515.5"/>
<polygon points="482.7,1478.7 502.7,1514.7 462.7,1514.7"/>
<polygon points="510.2,1477.9 530.2,1513.9 490.2,1513.9"/>
<polygon points="537.6,1477.2 557.6,1513.2 517.6,1513.2"/>
<polygon points="565,1476.4 585,1512.4 545,1512.4"/>
<polygon points="592.4,1475.7 612.4,1511.7 572.4,1511.7"/>
<polygon points="619.8,1474.5 639.8,1510.5 599.8,1510.5"/>
<polygon points="647.3,1473.3 667.3,1509.3 627.3,1509.3"/>
<polygon points="674.7,1472 694.7,1508 654.7,1508"/>
<polygon points="702.1,1470.8 722.1,1506.8 682.1,1506.8"/>
<polygon points="729.5,1468 749.5,1504 709.5,1504"/>
<polygon points="757,1465.2 777,1501.2 737,1501.2"/>
<polygon points="784.4,1458.3 804.4,1494.3 764.4,1494.3"/>
<polygon points="811.8,1451.4 831.8,1487.4 791.8,1487.4"/>
<polygon points="839.2,1446.4 859.2,1482.4 819.2,1482.4"/>
<polygon points="866.6,1434.9 886.6,1470.9 846.6,1470.9"/>
<polygon points="894.1,1418.1 914.1,1454.1 874.1,1454.1"/>
<polygon points="921.5,1402.4 941.5,1438.4 901.5,1438.4"/>
<polygon points="948.9,1388.7 968.9,1424.7 928.9,1424.7"/>
<polygon points="976.3,1375.1 996.3,1411.1 956.3,1411.1"/>
<polygon points="1003.8,1365.2 1023.8,1401.2 983.8,1401.2"/>
<polygon points="1031.2,1359.4 1051.2,1395.4 1011.2,1395.4"/>
<polygon points="1058.6,1358.2 1078.6,1394.2 1038.6,1394.2"/>
<polygon points="1086,1360.6 1106,1396.6 1066,1396.6"/>
<polygon points="1113.4,1360.6 1133.4,1396.6 1093.4,1396.6"/>
<polygon points="1140.9,1360.6 1160.9,1396.6 1120.9,1396.6"/>
<polygon points="1168.3,1360.6 1188.3,1396.6 1148.3,1396.6"/>
<polygon points="1195.7,1360.6 1215.7,1396.6 1175.7,1396.6"/>
<polygon points="1223.1,1358.2 1243.1,1394.2 1203.1,1394.2"/>
<polygon points="1250.6,1355.3 1270.6,1391.3 1230.6,1391.3"/>
<polygon points="1278,1352.1 1298,1388.1 1258,1388.1"/>
<polygon points="1305.4,1345.6 1325.4,1381.6 1285.4,1381.6"/>
<polygon points="1332.8,1338.6 1352.8,1374.6 1312.8,1374.6"/>
<polygon points="1360.2,1328.1 1380.2,1364.1 1340.2,1364.1"/>
<polygon points="1387.7,1312.3 1407.7,1348.3 1367.7,1348.3"/>
<polygon points="1415.1,1288.9 1435.1,1324.9 1395.1,1324.9"/>
<polygon points="1442.5,1259.4 1462.5,1295.4 1422.5,1295.4"/>
<polygon points="1469.9,1221.3 1489.9,1257.3 1449.9,1257.3"/>
<polygon points="1475.4,1206.7 1495.4,1242.7 1455.4,1242.7"/>
<polygon points="1480.9,1192.2 1500.9,1228.2 1460.9,1228.2"/>
<polygon points="1486.4,1177.7 1506.4,1213.7 1466.4,1213.7"/>
<polygon points="1491.9,1163.2 1511.9,1199.2 1471.9,1199.2"/>
<polygon points="1497.3,1148.7 1517.3,1184.7 1477.3,1184.7"/>
<polygon points="1502.8,1134.1 1522.8,1170.1 1482.8,1170.1"/>
<polygon points="1508.3,1119.6 1528.3,1155.6 1488.3,1155.6"/>
<polygon points="1513.8,1105.1 1533.8,1141.1 1493.8,1141.1"/>
<polygon points="1519.3,1090.6 1539.3,1126.6 1499.3,1126.6"/>
<polygon points="1524.8,1076.1 1544.8,1112.1 1504.8,1112.1"/>
<polygon points="1530.3,1061.5 1550.3,1097.5 1510.3,1097.5"/>
<polygon points="1535.7,1047 1555.7,1083 1515.7,1083"/>
<polygon points="1541.2,1032.5 1561.2,1068.5 1521.2,1068.5"/>
<polygon points="1546.7,1018 1566.7,1054 1526.7,1054"/>
<polygon points="1552.2,1003.8 1572.2,1039.8 1532.2,1039.8"/>
<polygon points="1557.7,990 1577.7,1026 1537.7,1026"/>
<polygon points="1563.2,976.2 1583.2,1012.2 1543.2,1012.2"/>
<polygon points="1568.6,962.5 1588.6,998.5 1548.6,998.5"/>
<polygon points="1574.1,948.7 1594.1,984.7 1554.1,984.7"/>
<polygon points="1579.6,935 1599.6,971 1559.6,971"/>
<polygon points="1585.1,921.2 1605.1,957.2 1565.1,957.2"/>
<polygon points="1590.6,925.5 1610.6,961.5 1570.6,961.5"/>
<polygon points="1596.1,947.9 1616.1,983.9 1576.1,983.9"/>
<polygon points="1601.5,970.3 1621.5,1006.3 1581.5,1006.3"/>
<polygon points="1607,992.7 1627,1028.7 1587,1028.7"/>
<polygon points="1612.5,1019.3 1632.5,1055.3 1592.5,1055.3"/>
<polygon points="1618,1046.9 1638,1082.9 1598,1082.9"/>
<polygon points="1623.5,1074.6 1643.5,1110.6 1603.5,1110.6"/>
<polygon points="1629,1102.2 1649,1138.2 1609,1138.2"/>
<polygon points="1634.5,1129.7 1654.5,1165.7 1614.5,1165.7"/>
<polygon points="1639.9,1156.2 1659.9,1192.2 1619.9,1192.2"/>
<polygon points="1645.4,1182.8 1665.4,1218.8 1625.4,1218.8"/>
<polygon points="1650.9,1209.4 1670.9,1245.4 1630.9,1245.4"/>
<polygon points="1656.4,1231.1 1676.4,1267.1 1636.4,1267.1"/>
<polygon points="1661.9,1245.6 1681.9,1281.6 1641.9,1281.6"/>
<polygon points="1667.4,1260.1 1687.4,1296.1 1647.4,1296.1"/>
<polygon points="1672.8,1274.6 1692.8,1310.6 1652.8,1310.6"/>
<polygon points="1678.3,1289.2 1698.3,1325.2 1658.3,1325.2"/>
<polygon points="1683.8,1303.7 1703.8,1339.7 1663.8,1339.7"/>
<polygon points="1689.3,1318.2 1709.3,1354.2 1669.3,1354.2"/>
<polygon points="1716.7,1352.5 1736.7,1388.5 1696.7,1388.5"/>
<polygon points="1744.1,1382.8 1764.1,1418.8 1724.1,1418.8"/>
<polygon points="1771.6,1405 1791.6,1441 1751.6,1441"/>
<polygon points="1799,1421.2 1819,1457.2 1779,1457.2"/>
<polygon points="1826.4,1431.3 1846.4,1467.3 1806.4,1467.3"/>
<polygon points="1853.8,1441.4 1873.8,1477.4 1833.8,1477.4"/>
<polygon points="1881.3,1448.8 1901.3,1484.8 1861.3,1484.8"/>
<polygon points="1908.7,1456.3 1928.7,1492.3 1888.7,1492.3"/>
<polygon points="1936.1,1458.6 1956.1,1494.6 1916.1,1494.6"/>
<polygon points="1963.5,1460.9 1983.5,1496.9 1943.5,1496.9"/>
<polygon points="1990.9,1463.3 2010.9,1499.3 1970.9,1499.3"/>
<polygon points="2018.4,1465.6 2038.4,1501.6 1998.4,1501.6"/>
<polygon points="2045.8,1467 2065.8,1503 2025.8,1503"/>
<polygon points="2073.2,1468.5 2093.2,1504.5 2053.2,1504.5"/>
<polygon points="2100.6,1470 2120.6,1506 2080.6,1506"/>
<polygon points="2128.1,1471.4 2148.1,1507.4 2108.1,1507.4"/>
</g>
<g fill="#008000" stroke="none">
<polyline fill="none" stroke="#008000" stroke-width="7.2" stroke-linejoin="round" points="373.1,1511.3 400.5,1510.9 427.9,1510.5 455.3,1510.1 482.7,1509.7 510.2,1509 537.6,1508.3 565,1507.6 592.4,1506.9 619.8,1505.7 647.3,1504.6 674.7,1503.5 702.1,1502.4 729.5,1500.8 757,1499.2 784.4,1497.8 811.8,1496.6 839.2,1495.1 866.6,1492.7 894.1,1491.3 921.5,1488.7 976.3,1480.8 1031.2,1473.1 1058.6,1470.5 1086,1468.5 1113.4,1465.7 1140.9,1462.8 1168.3,1459.8 1195.7,1455.8 1223.1,1451.9 1250.6,1448.1 1278,1445.7 1305.4,1441 1332.8,1430.3 1360.2,1416.6 1387.7,1396.2 1415.1,1373.4 1442.5,1334.8 1469.9,1289 1479.7,1248.2 1488.4,1218.3 1497.1,1181 1504.9,1136.1 1513.4,1080 1521.6,1009.5 1529.8,920.5 1537.8,807.6 1546.2,662.6 1554.5,491.6 1561.4,316.8 1570.9,206.5 1579.2,238.2 1587.6,436.9 1595.6,678.8 1603.9,855.1 1611.9,975.4 1620.1,1063.2 1628.5,1132.3 1636.8,1183.4 1645,1224.2 1653.4,1254.1 1663.2,1285.4 1671.1,1314.8 1678.9,1342.3 1689.3,1368.4 1716.7,1401.6 1744.1,1429.7 1771.6,1450.4 1799,1463.8 1826.4,1473.7 1853.8,1483 1881.3,1487.3 1908.7,1491.5 1936.1,1493.2 1963.5,1494.9 1990.9,1496.7 2018.4,1498.4 2045.8,1499 2073.2,1499.6 2100.6,1500.2 2128.1,1500.8"/>
<polygon points="373.1,1489.5 395.1,1511.3 373.1,1533.1 351.1,1511.3"/>
<polygon points="400.5,1489.1 422.5,1510.9 400.5,1532.7 378.5,1510.9"/>
<polygon points="427.9,1488.7 449.9,1510.5 427.9,1532.3 405.9,1510.5"/>
<polygon points="455.3,1488.3 477.3,1510.1 455.3,1531.9 433.3,1510.1"/>
<polygon points="482.7,1487.9 504.7,1509.7 482.7,1531.5 460.7,1509.7"/>
<polygon points="510.2,1487.2 532.2,1509 510.2,1530.8 488.2,1509"/>
<polygon points="537.6,1486.5 559.6,1508.3 537.6,1530.1 515.6,1508.3"/>
<polygon points="565,1485.8 587,1507.6 565,1529.4 543,1507.6"/>
<polygon points="592.4,1485.1 614.4,1506.9 592.4,1528.7 570.4,1506.9"/>
<polygon points="619.8,1483.9 641.8,1505.7 619.8,1527.5 597.8,1505.7"/>
<polygon points="647.3,1482.8 669.3,1504.6 647.3,1526.4 625.3,1504.6"/>
<polygon points="674.7,1481.7 696.7,1503.5 674.7,1525.3 652.7,1503.5"/>
<polygon points="702.1,1480.6 724.1,1502.4 702.1,1524.2 680.1,1502.4"/>
<polygon points="729.5,1479 751.5,1500.8 729.5,1522.6 707.5,1500.8"/>
<polygon points="757,1477.4 779,1499.2 757,1521 735,1499.2"/>
<polygon points="784.4,1476 806.4,1497.8 784.4,1519.6 762.4,1497.8"/>
<polygon points="811.8,1474.8 833.8,1496.6 811.8,1518.4 789.8,1496.6"/>
<polygon points="839.2,1473.3 861.2,1495.1 839.2,1516.9 817.2,1495.1"/>
<polygon points="866.6,1470.9 888.6,1492.7 866.6,1514.5 844.6,1492.7"/>
<polygon points="894.1,1469.5 916.1,1491.3 894.1,1513.1 872.1,1491.3"/>
<polygon points="921.5,1466.9 943.5,1488.7 921.5,1510.5 899.5,1488.7"/>
<polygon points="976.3,1459 998.3,1480.8 976.3,1502.6 954.3,1480.8"/>
<polygon points="1031.2,1451.3 1053.2,1473.1 1031.2,1494.9 1009.2,1473.1"/>
<polygon points="1058.6,1448.7 1080.6,1470.5 1058.6,1492.3 1036.6,1470.5"/>
<polygon points="1086,1446.7 1108,1468.5 1086,1490.3 1064,1468.5"/>
<polygon points="1113.4,1443.9 1135.4,1465.7 1113.4,1487.5 1091.4,1465.7"/>
<polygon points="1140.9,1441 1162.9,1462.8 1140.9,1484.6 1118.9,1462.8"/>
<polygon points="1168.3,1438 1190.3,1459.8 1168.3,1481.6 1146.3,1459.8"/>
<polygon points="1195.7,1434 1217.7,1455.8 1195.7,1477.6 1173.7,1455.8"/>
<polygon points="1223.1,1430.1 1245.1,1451.9 1223.1,1473.7 1201.1,1451.9"/>
<polygon points="1250.6,1426.3 1272.6,1448.1 1250.6,1469.9 1228.6,1448.1"/>
<polygon points="1278,1423.9 1300,1445.7 1278,1467.5 1256,1445.7"/>
<polygon points="1305.4,1419.2 1327.4,1441 1305.4,1462.8 1283.4,1441"/>
<polygon points="1332.8,1408.5 1354.8,1430.3 1332.8,1452.1 1310.8,1430.3"/>
<polygon points="1360.2,1394.8 1382.2,1416.6 1360.2,1438.4 1338.2,1416.6"/>
<polygon points="1387.7,1374.4 1409.7,1396.2 1387.7,1418 1365.7,1396.2"/>
<polygon points="1415.1,1351.6 1437.1,1373.4 1415.1,1395.2 1393.1,1373.4"/>
<polygon points="1442.5,1313 1464.5,1334.8 1442.5,1356.6 1420.5,1334.8"/>
<polygon points="1469.9,1267.2 1491.9,1289 1469.9,1310.8 1447.9,1289"/>
<polygon points="1479.7,1226.4 1501.7,1248.2 1479.7,1270 1457.7,1248.2"/>
<polygon points="1488.4,1196.5 1510.4,1218.3 1488.4,1240.1 1466.4,1218.3"/>
<polygon points="1497.1,1159.2 1519.1,1181 1497.1,1202.8 1475.1,1181"/>
<polygon points="1504.9,1114.3 1526.9,1136.1 1504.9,1157.9 1482.9,1136.1"/>
<polygon points="1513.4,1058.2 1535.4,1080 1513.4,1101.8 1491.4,1080"/>
<polygon points="1521.6,987.7 1543.6,1009.5 1521.6,1031.3 1499.6,1009.5"/>
<polygon points="1529.8,898.7 1551.8,920.5 1529.8,942.3 1507.8,920.5"/>
<polygon points="1537.8,785.8 1559.8,807.6 1537.8,829.4 1515.8,807.6"/>
<polygon points="1546.2,640.8 1568.2,662.6 1546.2,684.4 1524.2,662.6"/>
<polygon points="1554.5,469.8 1576.5,491.6 1554.5,513.4 1532.5,491.6"/>
<polygon points="1561.4,295 1583.4,316.8 1561.4,338.6 1539.4,316.8"/>
<polygon points="1570.9,184.7 1592.9,206.5 1570.9,228.3 1548.9,206.5"/>
<polygon points="1579.2,216.4 1601.2,238.2 1579.2,260 1557.2,238.2"/>
<polygon points="1587.6,415.1 1609.6,436.9 1587.6,458.7 1565.6,436.9"/>
<polygon points="1595.6,657 1617.6,678.8 1595.6,700.6 1573.6,678.8"/>
<polygon points="1603.9,833.3 1625.9,855.1 1603.9,876.9 1581.9,855.1"/>
<polygon points="1611.9,953.6 1633.9,975.4 1611.9,997.2 1589.9,975.4"/>
<polygon points="1620.1,1041.4 1642.1,1063.2 1620.1,1085 1598.1,1063.2"/>
<polygon points="1628.5,1110.5 1650.5,1132.3 1628.5,1154.1 1606.5,1132.3"/>
<polygon points="1636.8,1161.6 1658.8,1183.4 1636.8,1205.2 1614.8,1183.4"/>
<polygon points="1645,1202.4 1667,1224.2 1645,1246 1623,1224.2"/>
<polygon points="1653.4,1232.3 1675.4,1254.1 1653.4,1275.9 1631.4,1254.1"/>
<polygon points="1663.2,1263.6 1685.2,1285.4 1663.2,1307.2 1641.2,1285.4"/>
<polygon points="1671.1,1293 1693.1,1314.8 1671.1,1336.6 1649.1,1314.8"/>
<polygon points="1678.9,1320.5 1700.9,1342.3 1678.9,1364.1 1656.9,1342.3"/>
<polygon points="1689.3,1346.6 1711.3,1368.4 1689.3,1390.2 1667.3,1368.4"/>
<polygon points="1716.7,1379.8 1738.7,1401.6 1716.7,1423.4 1694.7,1401.6"/>
<polygon points="1744.1,1407.9 1766.1,1429.7 1744.1,1451.5 1722.1,1429.7"/>
<polygon points="1771.6,1428.6 1793.6,1450.4 1771.6,1472.2 1749.6,1450.4"/>
<polygon points="1799,1442 1821,1463.8 1799,1485.6 1777,1463.8"/>
<polygon points="1826.4,1451.9 1848.4,1473.7 1826.4,1495.5 1804.4,1473.7"/>
<polygon points="1853.8,1461.2 1875.8,1483 1853.8,1504.8 1831.8,1483"/>
<polygon points="1881.3,1465.5 1903.3,1487.3 1881.3,1509.1 1859.3,1487.3"/>
<polygon points="1908.7,1469.7 1930.7,1491.5 1908.7,1513.3 1886.7,1491.5"/>
<polygon points="1936.1,1471.4 1958.1,1493.2 1936.1,1515 1914.1,1493.2"/>
<polygon points="1963.5,1473.1 1985.5,1494.9 1963.5,1516.7 1941.5,1494.9"/>
<polygon points="1990.9,1474.9 2012.9,1496.7 1990.9,1518.5 1968.9,1496.7"/>
<polygon points="2018.4,1476.6 2040.4,1498.4 2018.4,1520.2 1996.4,1498.4"/>
<polygon points="2045.8,1477.2 2067.8,1499 2045.8,1520.8 2023.8,1499"/>
<polygon points="2073.2,1477.8 2095.2,1499.6 2073.2,1521.4 2051.2,1499.6"/>
<polygon points="2100.6,1478.4 2122.6,1500.2 2100.6,1522 2078.6,1500.2"/>
<polygon points="2128.1,1479 2150.1,1500.8 2128.1,1522.6 2106.1,1500.8"/>
</g>
</g>
<text class="tl" transform="translate(482.7 1636.1) scale(1 1.04)" text-anchor="middle">-10</text>
<text class="tl" transform="translate(702.1 1636.1) scale(1 1.04)" text-anchor="middle">-8</text>
<text class="tl" transform="translate(921.5 1636.1) scale(1 1.04)" text-anchor="middle">-6</text>
<text class="tl" transform="translate(1140.9 1636.1) scale(1 1.04)" text-anchor="middle">-4</text>
<text class="tl" transform="translate(1360.2 1636.1) scale(1 1.04)" text-anchor="middle">-2</text>
<text class="tl" transform="translate(1579.6 1636.1) scale(1 1.04)" text-anchor="middle">0</text>
<text class="tl" transform="translate(1799 1636.1) scale(1 1.04)" text-anchor="middle">2</text>
<text class="tl" transform="translate(2018.4 1636.1) scale(1 1.04)" text-anchor="middle">4</text>
<text class="tl" transform="translate(325.6 1543.3) scale(1 1.04)" text-anchor="end">0.00</text>
<text class="tl" transform="translate(325.6 1139.5) scale(1 1.04)" text-anchor="end">0.02</text>
<text class="tl" transform="translate(325.6 735.7) scale(1 1.04)" text-anchor="end">0.04</text>
<text class="tl" transform="translate(325.6 331.9) scale(1 1.04)" text-anchor="end">0.06</text>
<g stroke="#000" stroke-width="5.95" stroke-linecap="round" fill="none">
<path d="M373.1 1795H2128.1V3208H373.1Z" stroke-linejoin="miter" stroke-linecap="butt"/>
<path d="M373.1 3208v27.8"/>
<path d="M498.4 3208v14.3"/>
<path d="M498.4 1795v14.3"/>
<path d="M623.8 3208v27.8"/>
<path d="M623.8 1795v27.8"/>
<path d="M749.1 3208v14.3"/>
<path d="M749.1 1795v14.3"/>
<path d="M874.5 3208v27.8"/>
<path d="M874.5 1795v27.8"/>
<path d="M999.8 3208v14.3"/>
<path d="M999.8 1795v14.3"/>
<path d="M1125.2 3208v27.8"/>
<path d="M1125.2 1795v27.8"/>
<path d="M1250.6 3208v14.3"/>
<path d="M1250.6 1795v14.3"/>
<path d="M1375.9 3208v27.8"/>
<path d="M1375.9 1795v27.8"/>
<path d="M1501.3 3208v14.3"/>
<path d="M1501.3 1795v14.3"/>
<path d="M1626.6 3208v27.8"/>
<path d="M1626.6 1795v27.8"/>
<path d="M1752 3208v14.3"/>
<path d="M1752 1795v14.3"/>
<path d="M1877.3 3208v27.8"/>
<path d="M1877.3 1795v27.8"/>
<path d="M2002.7 3208v14.3"/>
<path d="M2002.7 1795v14.3"/>
<path d="M2128.1 3208v27.8"/>
<path d="M373.1 3208h-27.8"/>
<path d="M373.1 2972.5h-14.3"/>
<path d="M2128.1 2972.5h-14.3"/>
<path d="M373.1 2737h-27.8"/>
<path d="M2128.1 2737h-27.8"/>
<path d="M373.1 2501.5h-14.3"/>
<path d="M2128.1 2501.5h-14.3"/>
<path d="M373.1 2266h-27.8"/>
<path d="M2128.1 2266h-27.8"/>
<path d="M373.1 2030.5h-14.3"/>
<path d="M2128.1 2030.5h-14.3"/>
<path d="M373.1 1795h-27.8"/>
</g>
<clipPath id="clipb"><rect x="373.1" y="1795" width="1755" height="1414.5"/></clipPath>
<g clip-path="url(#clipb)">
<g fill="#000000" stroke="none">
<polyline fill="none" stroke="#000000" stroke-width="7.2" stroke-linejoin="round" points="341.7,3179 373.1,3177.9 404.4,3176.8 435.7,3175.7 467.1,3174.7 498.4,3173.6 529.7,3171 561.1,3168.4 592.4,3165.8 623.8,3163.3 655.1,3159.7 686.4,3156.2 717.8,3152.7 749.1,3149.1 811.8,3138.5 874.5,3099.7 937.2,3047.4 999.8,2972.3 1031.2,2907.3 1062.5,2848.4 1093.9,2785.7 1125.2,2734.9 1156.5,2691.8 1187.9,2664.7 1219.2,2652.9 1250.6,2658.8 1281.9,2675.3 1313.2,2698.8 1344.6,2725 1375.9,2751.6 1407.2,2773.3 1438.6,2790 1469.9,2800.6 1501.3,2800 1507.5,2799.9 1513.8,2799.8 1520.1,2799.7 1526.3,2799.6 1532.6,2799.4 1538.9,2799.3 1545.1,2799.2 1551.4,2798.6 1557.7,2797.7 1563.9,2796.9 1570.2,2796.1 1576.5,2795.2 1582.7,2794.4 1589,2793.5 1595.3,2792.2 1601.6,2791 1607.8,2789.7 1614.1,2788.4 1620.4,2787.2 1626.6,2785.9 1632.9,2788.7 1639.2,2793.3 1645.4,2799.8 1651.7,2812.4 1658,2824.9 1664.2,2837.5 1670.5,2850 1676.8,2862.6 1683,2875.1 1689.3,2887.7 1695.6,2900.2 1701.8,2913.1 1708.1,2926.6 1714.4,2940.2 1720.6,2953.7 1726.9,2959.5 1733.2,2965.4 1739.4,2971.3 1745.7,2983.5 1752,2999.8 1783.3,3036.1 1814.7,3066.7 1846,3090.2 1877.3,3106.7 1940,3120.9 2002.7,3127.9 2065.4,3136.2 2128.1,3142.1 2190.7,3144.4"/>
<rect x="326.1" y="3163.4" width="31.2" height="31.2"/>
<rect x="357.4" y="3162.3" width="31.2" height="31.2"/>
<rect x="388.8" y="3161.2" width="31.2" height="31.2"/>
<rect x="420.1" y="3160.1" width="31.2" height="31.2"/>
<rect x="451.5" y="3159.1" width="31.2" height="31.2"/>
<rect x="482.8" y="3158" width="31.2" height="31.2"/>
<rect x="514.1" y="3155.4" width="31.2" height="31.2"/>
<rect x="545.5" y="3152.8" width="31.2" height="31.2"/>
<rect x="576.8" y="3150.2" width="31.2" height="31.2"/>
<rect x="608.2" y="3147.7" width="31.2" height="31.2"/>
<rect x="639.5" y="3144.1" width="31.2" height="31.2"/>
<rect x="670.8" y="3140.6" width="31.2" height="31.2"/>
<rect x="702.2" y="3137.1" width="31.2" height="31.2"/>
<rect x="733.5" y="3133.5" width="31.2" height="31.2"/>
<rect x="796.2" y="3122.9" width="31.2" height="31.2"/>
<rect x="858.9" y="3084.1" width="31.2" height="31.2"/>
<rect x="921.6" y="3031.8" width="31.2" height="31.2"/>
<rect x="984.2" y="2956.7" width="31.2" height="31.2"/>
<rect x="1015.6" y="2891.7" width="31.2" height="31.2"/>
<rect x="1046.9" y="2832.8" width="31.2" height="31.2"/>
<rect x="1078.3" y="2770.1" width="31.2" height="31.2"/>
<rect x="1109.6" y="2719.3" width="31.2" height="31.2"/>
<rect x="1140.9" y="2676.2" width="31.2" height="31.2"/>
<rect x="1172.3" y="2649.1" width="31.2" height="31.2"/>
<rect x="1203.6" y="2637.3" width="31.2" height="31.2"/>
<rect x="1235" y="2643.2" width="31.2" height="31.2"/>
<rect x="1266.3" y="2659.7" width="31.2" height="31.2"/>
<rect x="1297.6" y="2683.2" width="31.2" height="31.2"/>
<rect x="1329" y="2709.4" width="31.2" height="31.2"/>
<rect x="1360.3" y="2736" width="31.2" height="31.2"/>
<rect x="1391.6" y="2757.7" width="31.2" height="31.2"/>
<rect x="1423" y="2774.4" width="31.2" height="31.2"/>
<rect x="1454.3" y="2785" width="31.2" height="31.2"/>
<rect x="1485.7" y="2784.4" width="31.2" height="31.2"/>
<rect x="1491.9" y="2784.3" width="31.2" height="31.2"/>
<rect x="1498.2" y="2784.2" width="31.2" height="31.2"/>
<rect x="1504.5" y="2784.1" width="31.2" height="31.2"/>
<rect x="1510.7" y="2784" width="31.2" height="31.2"/>
<rect x="1517" y="2783.8" width="31.2" height="31.2"/>
<rect x="1523.3" y="2783.7" width="31.2" height="31.2"/>
<rect x="1529.5" y="2783.6" width="31.2" height="31.2"/>
<rect x="1535.8" y="2783" width="31.2" height="31.2"/>
<rect x="1542.1" y="2782.1" width="31.2" height="31.2"/>
<rect x="1548.3" y="2781.3" width="31.2" height="31.2"/>
<rect x="1554.6" y="2780.5" width="31.2" height="31.2"/>
<rect x="1560.9" y="2779.6" width="31.2" height="31.2"/>
<rect x="1567.1" y="2778.8" width="31.2" height="31.2"/>
<rect x="1573.4" y="2777.9" width="31.2" height="31.2"/>
<rect x="1579.7" y="2776.6" width="31.2" height="31.2"/>
<rect x="1586" y="2775.4" width="31.2" height="31.2"/>
<rect x="1592.2" y="2774.1" width="31.2" height="31.2"/>
<rect x="1598.5" y="2772.8" width="31.2" height="31.2"/>
<rect x="1604.8" y="2771.6" width="31.2" height="31.2"/>
<rect x="1611" y="2770.3" width="31.2" height="31.2"/>
<rect x="1617.3" y="2773.1" width="31.2" height="31.2"/>
<rect x="1623.6" y="2777.7" width="31.2" height="31.2"/>
<rect x="1629.8" y="2784.2" width="31.2" height="31.2"/>
<rect x="1636.1" y="2796.8" width="31.2" height="31.2"/>
<rect x="1642.4" y="2809.3" width="31.2" height="31.2"/>
<rect x="1648.6" y="2821.9" width="31.2" height="31.2"/>
<rect x="1654.9" y="2834.4" width="31.2" height="31.2"/>
<rect x="1661.2" y="2847" width="31.2" height="31.2"/>
<rect x="1667.4" y="2859.5" width="31.2" height="31.2"/>
<rect x="1673.7" y="2872.1" width="31.2" height="31.2"/>
<rect x="1680" y="2884.6" width="31.2" height="31.2"/>
<rect x="1686.2" y="2897.5" width="31.2" height="31.2"/>
<rect x="1692.5" y="2911" width="31.2" height="31.2"/>
<rect x="1698.8" y="2924.6" width="31.2" height="31.2"/>
<rect x="1705" y="2938.1" width="31.2" height="31.2"/>
<rect x="1711.3" y="2943.9" width="31.2" height="31.2"/>
<rect x="1717.6" y="2949.8" width="31.2" height="31.2"/>
<rect x="1723.8" y="2955.7" width="31.2" height="31.2"/>
<rect x="1730.1" y="2967.9" width="31.2" height="31.2"/>
<rect x="1736.4" y="2984.2" width="31.2" height="31.2"/>
<rect x="1767.7" y="3020.5" width="31.2" height="31.2"/>
<rect x="1799.1" y="3051.1" width="31.2" height="31.2"/>
<rect x="1830.4" y="3074.7" width="31.2" height="31.2"/>
<rect x="1861.7" y="3091.1" width="31.2" height="31.2"/>
<rect x="1924.4" y="3105.3" width="31.2" height="31.2"/>
<rect x="1987.1" y="3112.3" width="31.2" height="31.2"/>
<rect x="2049.8" y="3120.6" width="31.2" height="31.2"/>
<rect x="2112.5" y="3126.5" width="31.2" height="31.2"/>
<rect x="2175.1" y="3128.8" width="31.2" height="31.2"/>
</g>
<g fill="#ff0000" stroke="none">
<polyline fill="none" stroke="#ff0000" stroke-width="7.2" stroke-linejoin="round" points="373.1,3188 404.4,3186.5 435.7,3185 467.1,3183.6 498.4,3182.1 529.7,3179.7 561.1,3162.3 592.4,3175 623.8,3174.6 655.1,3171 686.4,3167.5 717.8,3163 749.1,3158.5 780.5,3149.1 811.8,3139.7 843.1,3127.9 874.5,3113.8 905.8,3103.9 937.2,3077.3 968.5,3038.4 999.8,2998.4 1031.2,2959.3 1062.5,2928 1093.9,2886.8 1125.2,2837.1 1156.5,2802.7 1187.9,2788.1 1219.2,2770.4 1250.6,2763.4 1281.9,2768.6 1313.2,2776.3 1344.6,2785.7 1375.9,2788.8 1407.2,2785.7 1438.6,2777 1469.9,2766.7 1501.3,2755.6 1507.5,2752.9 1513.8,2750.3 1520.1,2747.6 1526.3,2744.9 1532.6,2742.3 1538.9,2738.9 1545.1,2733.4 1551.4,2728 1557.7,2722.6 1563.9,2716.7 1570.2,2707.1 1576.5,2697.4 1582.7,2687.8 1589,2678.1 1595.3,2669.2 1601.6,2660.3 1607.8,2651.4 1614.1,2655.8 1620.4,2663.4 1626.6,2671.1 1632.9,2687.9 1639.2,2704.7 1645.4,2725.4 1651.7,2748.4 1658,2771.4 1664.2,2793.9 1670.5,2815.7 1676.8,2837.6 1683,2859.4 1689.3,2879 1695.6,2893.5 1701.8,2908.1 1708.1,2922.6 1714.4,2937.2 1720.6,2947.8 1726.9,2958.4 1733.2,2969 1739.4,2979.6 1745.7,2990.2 1752,3000.8 1783.3,3031.4 1814.7,3059.6 1846,3083.2 1877.3,3099.7 1908.7,3112.6 1940,3125.6 1971.4,3133.8 2002.7,3142.1 2034,3147.9 2065.4,3153.8 2096.7,3157.4 2128.1,3160.9"/>
<circle cx="373.1" cy="3188" r="17.1"/>
<circle cx="404.4" cy="3186.5" r="17.1"/>
<circle cx="435.7" cy="3185" r="17.1"/>
<circle cx="467.1" cy="3183.6" r="17.1"/>
<circle cx="498.4" cy="3182.1" r="17.1"/>
<circle cx="529.7" cy="3179.7" r="17.1"/>
<circle cx="561.1" cy="3162.3" r="17.1"/>
<circle cx="592.4" cy="3175" r="17.1"/>
<circle cx="623.8" cy="3174.6" r="17.1"/>
<circle cx="655.1" cy="3171" r="17.1"/>
<circle cx="686.4" cy="3167.5" r="17.1"/>
<circle cx="717.8" cy="3163" r="17.1"/>
<circle cx="749.1" cy="3158.5" r="17.1"/>
<circle cx="780.5" cy="3149.1" r="17.1"/>
<circle cx="811.8" cy="3139.7" r="17.1"/>
<circle cx="843.1" cy="3127.9" r="17.1"/>
<circle cx="874.5" cy="3113.8" r="17.1"/>
<circle cx="905.8" cy="3103.9" r="17.1"/>
<circle cx="937.2" cy="3077.3" r="17.1"/>
<circle cx="968.5" cy="3038.4" r="17.1"/>
<circle cx="999.8" cy="2998.4" r="17.1"/>
<circle cx="1031.2" cy="2959.3" r="17.1"/>
<circle cx="1062.5" cy="2928" r="17.1"/>
<circle cx="1093.9" cy="2886.8" r="17.1"/>
<circle cx="1125.2" cy="2837.1" r="17.1"/>
<circle cx="1156.5" cy="2802.7" r="17.1"/>
<circle cx="1187.9" cy="2788.1" r="17.1"/>
<circle cx="1219.2" cy="2770.4" r="17.1"/>
<circle cx="1250.6" cy="2763.4" r="17.1"/>
<circle cx="1281.9" cy="2768.6" r="17.1"/>
<circle cx="1313.2" cy="2776.3" r="17.1"/>
<circle cx="1344.6" cy="2785.7" r="17.1"/>
<circle cx="1375.9" cy="2788.8" r="17.1"/>
<circle cx="1407.2" cy="2785.7" r="17.1"/>
<circle cx="1438.6" cy="2777" r="17.1"/>
<circle cx="1469.9" cy="2766.7" r="17.1"/>
<circle cx="1501.3" cy="2755.6" r="17.1"/>
<circle cx="1507.5" cy="2752.9" r="17.1"/>
<circle cx="1513.8" cy="2750.3" r="17.1"/>
<circle cx="1520.1" cy="2747.6" r="17.1"/>
<circle cx="1526.3" cy="2744.9" r="17.1"/>
<circle cx="1532.6" cy="2742.3" r="17.1"/>
<circle cx="1538.9" cy="2738.9" r="17.1"/>
<circle cx="1545.1" cy="2733.4" r="17.1"/>
<circle cx="1551.4" cy="2728" r="17.1"/>
<circle cx="1557.7" cy="2722.6" r="17.1"/>
<circle cx="1563.9" cy="2716.7" r="17.1"/>
<circle cx="1570.2" cy="2707.1" r="17.1"/>
<circle cx="1576.5" cy="2697.4" r="17.1"/>
<circle cx="1582.7" cy="2687.8" r="17.1"/>
<circle cx="1589" cy="2678.1" r="17.1"/>
<circle cx="1595.3" cy="2669.2" r="17.1"/>
<circle cx="1601.6" cy="2660.3" r="17.1"/>
<circle cx="1607.8" cy="2651.4" r="17.1"/>
<circle cx="1614.1" cy="2655.8" r="17.1"/>
<circle cx="1620.4" cy="2663.4" r="17.1"/>
<circle cx="1626.6" cy="2671.1" r="17.1"/>
<circle cx="1632.9" cy="2687.9" r="17.1"/>
<circle cx="1639.2" cy="2704.7" r="17.1"/>
<circle cx="1645.4" cy="2725.4" r="17.1"/>
<circle cx="1651.7" cy="2748.4" r="17.1"/>
<circle cx="1658" cy="2771.4" r="17.1"/>
<circle cx="1664.2" cy="2793.9" r="17.1"/>
<circle cx="1670.5" cy="2815.7" r="17.1"/>
<circle cx="1676.8" cy="2837.6" r="17.1"/>
<circle cx="1683" cy="2859.4" r="17.1"/>
<circle cx="1689.3" cy="2879" r="17.1"/>
<circle cx="1695.6" cy="2893.5" r="17.1"/>
<circle cx="1701.8" cy="2908.1" r="17.1"/>
<circle cx="1708.1" cy="2922.6" r="17.1"/>
<circle cx="1714.4" cy="2937.2" r="17.1"/>
<circle cx="1720.6" cy="2947.8" r="17.1"/>
<circle cx="1726.9" cy="2958.4" r="17.1"/>
<circle cx="1733.2" cy="2969" r="17.1"/>
<circle cx="1739.4" cy="2979.6" r="17.1"/>
<circle cx="1745.7" cy="2990.2" r="17.1"/>
<circle cx="1752" cy="3000.8" r="17.1"/>
<circle cx="1783.3" cy="3031.4" r="17.1"/>
<circle cx="1814.7" cy="3059.6" r="17.1"/>
<circle cx="1846" cy="3083.2" r="17.1"/>
<circle cx="1877.3" cy="3099.7" r="17.1"/>
<circle cx="1908.7" cy="3112.6" r="17.1"/>
<circle cx="1940" cy="3125.6" r="17.1"/>
<circle cx="1971.4" cy="3133.8" r="17.1"/>
<circle cx="2002.7" cy="3142.1" r="17.1"/>
<circle cx="2034" cy="3147.9" r="17.1"/>
<circle cx="2065.4" cy="3153.8" r="17.1"/>
<circle cx="2096.7" cy="3157.4" r="17.1"/>
<circle cx="2128.1" cy="3160.9" r="17.1"/>
</g>
<g fill="#ff00ff" stroke="none">
<polyline fill="none" stroke="#ff00ff" stroke-width="7.2" stroke-linejoin="round" points="373.1,3176.9 404.4,3175.4 435.7,3173.9 467.1,3172.3 498.4,3170.8 529.7,3166.8 561.1,3164.9 592.4,3160.9 623.8,3155.5 655.1,3150.8 686.4,3143.6 717.8,3136.3 749.1,3129.1 780.5,3119.7 811.8,3110.3 843.1,3097.3 874.5,3083.2 905.8,3062 968.5,3030.9 999.8,3003.1 1031.2,2973.7 1062.5,2945.9 1093.9,2928.5 1125.2,2897.1 1156.5,2873.6 1187.9,2850 1219.2,2831.7 1250.6,2818.7 1281.9,2812.8 1313.2,2810.5 1344.6,2810.5 1375.9,2810.5 1407.2,2802.7 1438.6,2788.8 1469.9,2771.1 1501.3,2748.8 1507.5,2740.6 1513.8,2732.5 1520.1,2721.4 1526.3,2706.1 1532.6,2690.8 1538.9,2675.4 1545.1,2660.1 1551.4,2644.8 1557.7,2629.4 1563.9,2614.1 1570.2,2598.8 1576.5,2586.8 1582.7,2575.8 1589,2564.7 1595.3,2553.6 1601.6,2542.6 1607.8,2533.7 1614.1,2545 1620.4,2556.2 1626.6,2567.4 1632.9,2590.2 1639.2,2613 1645.4,2635.7 1651.7,2659.9 1658,2684 1664.2,2708.2 1670.5,2732.3 1676.8,2758.2 1683,2784.1 1689.3,2810 1695.6,2835.9 1701.8,2861.8 1708.1,2874.2 1714.4,2886.5 1720.6,2898.9 1726.9,2911.3 1733.2,2921.9 1739.4,2932.5 1745.7,2943.1 1752,2953.7 1783.3,2984.3 1814.7,3019.6 1846,3050.2 1877.3,3071.4 1908.7,3087.9 1940,3102 1971.4,3111.4 2002.7,3121.8 2034,3130.3 2065.4,3137.3 2096.7,3142.1 2128.1,3146.8"/>
<polygon points="373.1,3157.3 391.7,3170.9 384.6,3192.8 361.5,3192.8 354.4,3170.9"/>
<polygon points="404.4,3155.8 423,3169.3 415.9,3191.2 392.9,3191.2 385.7,3169.3"/>
<polygon points="435.7,3154.3 454.4,3167.8 447.2,3189.7 424.2,3189.7 417.1,3167.8"/>
<polygon points="467.1,3152.7 485.7,3166.3 478.6,3188.2 455.5,3188.2 448.4,3166.3"/>
<polygon points="498.4,3151.2 517,3164.7 509.9,3186.6 486.9,3186.6 479.8,3164.7"/>
<polygon points="529.7,3147.2 548.4,3160.7 541.3,3182.6 518.2,3182.6 511.1,3160.7"/>
<polygon points="561.1,3145.3 579.7,3158.8 572.6,3180.8 549.6,3180.8 542.4,3158.8"/>
<polygon points="592.4,3141.3 611.1,3154.8 603.9,3176.8 580.9,3176.8 573.8,3154.8"/>
<polygon points="623.8,3135.9 642.4,3149.4 635.3,3171.3 612.2,3171.3 605.1,3149.4"/>
<polygon points="655.1,3131.2 673.7,3144.7 666.6,3166.6 643.6,3166.6 636.5,3144.7"/>
<polygon points="686.4,3124 705.1,3137.5 698,3159.4 674.9,3159.4 667.8,3137.5"/>
<polygon points="717.8,3116.7 736.4,3130.3 729.3,3152.2 706.3,3152.2 699.1,3130.3"/>
<polygon points="749.1,3109.5 767.8,3123.1 760.6,3145 737.6,3145 730.5,3123.1"/>
<polygon points="780.5,3100.1 799.1,3113.6 792,3135.5 768.9,3135.5 761.8,3113.6"/>
<polygon points="811.8,3090.7 830.4,3104.2 823.3,3126.1 800.3,3126.1 793.2,3104.2"/>
<polygon points="843.1,3077.7 861.8,3091.3 854.7,3113.2 831.6,3113.2 824.5,3091.3"/>
<polygon points="874.5,3063.6 893.1,3077.1 886,3099 863,3099 855.8,3077.1"/>
<polygon points="905.8,3042.4 924.5,3055.9 917.3,3077.8 894.3,3077.8 887.2,3055.9"/>
<polygon points="968.5,3011.3 987.1,3024.8 980,3046.8 957,3046.8 949.9,3024.8"/>
<polygon points="999.8,2983.5 1018.5,2997.1 1011.4,3019 988.3,3019 981.2,2997.1"/>
<polygon points="1031.2,2954.1 1049.8,2967.6 1042.7,2989.5 1019.7,2989.5 1012.5,2967.6"/>
<polygon points="1062.5,2926.3 1081.2,2939.8 1074,2961.7 1051,2961.7 1043.9,2939.8"/>
<polygon points="1093.9,2908.9 1112.5,2922.4 1105.4,2944.3 1082.3,2944.3 1075.2,2922.4"/>
<polygon points="1125.2,2877.5 1143.8,2891.1 1136.7,2913 1113.7,2913 1106.6,2891.1"/>
<polygon points="1156.5,2854 1175.2,2867.5 1168.1,2889.4 1145,2889.4 1137.9,2867.5"/>
<polygon points="1187.9,2830.4 1206.5,2844 1199.4,2865.9 1176.4,2865.9 1169.2,2844"/>
<polygon points="1219.2,2812.1 1237.9,2825.6 1230.7,2847.5 1207.7,2847.5 1200.6,2825.6"/>
<polygon points="1250.6,2799.1 1269.2,2812.7 1262.1,2834.6 1239,2834.6 1231.9,2812.7"/>
<polygon points="1281.9,2793.2 1300.5,2806.8 1293.4,2828.7 1270.4,2828.7 1263.2,2806.8"/>
<polygon points="1313.2,2790.9 1331.9,2804.4 1324.7,2826.3 1301.7,2826.3 1294.6,2804.4"/>
<polygon points="1344.6,2790.9 1363.2,2804.4 1356.1,2826.3 1333,2826.3 1325.9,2804.4"/>
<polygon points="1375.9,2790.9 1394.5,2804.4 1387.4,2826.3 1364.4,2826.3 1357.3,2804.4"/>
<polygon points="1407.2,2783.1 1425.9,2796.6 1418.8,2818.6 1395.7,2818.6 1388.6,2796.6"/>
<polygon points="1438.6,2769.2 1457.2,2782.8 1450.1,2804.7 1427.1,2804.7 1419.9,2782.8"/>
<polygon points="1469.9,2751.5 1488.6,2765.1 1481.4,2787 1458.4,2787 1451.3,2765.1"/>
<polygon points="1501.3,2729.2 1519.9,2742.7 1512.8,2764.6 1489.7,2764.6 1482.6,2742.7"/>
<polygon points="1507.5,2721 1526.2,2734.6 1519.1,2756.5 1496,2756.5 1488.9,2734.6"/>
<polygon points="1513.8,2712.9 1532.4,2726.4 1525.3,2748.3 1502.3,2748.3 1495.2,2726.4"/>
<polygon points="1520.1,2701.8 1538.7,2715.4 1531.6,2737.3 1508.5,2737.3 1501.4,2715.4"/>
<polygon points="1526.3,2686.5 1545,2700.1 1537.9,2722 1514.8,2722 1507.7,2700.1"/>
<polygon points="1532.6,2671.2 1551.2,2684.7 1544.1,2706.6 1521.1,2706.6 1514,2684.7"/>
<polygon points="1538.9,2655.8 1557.5,2669.4 1550.4,2691.3 1527.4,2691.3 1520.2,2669.4"/>
<polygon points="1545.1,2640.5 1563.8,2654 1556.7,2676 1533.6,2676 1526.5,2654"/>
<polygon points="1551.4,2625.2 1570,2638.7 1562.9,2660.6 1539.9,2660.6 1532.8,2638.7"/>
<polygon points="1557.7,2609.8 1576.3,2623.4 1569.2,2645.3 1546.2,2645.3 1539,2623.4"/>
<polygon points="1563.9,2594.5 1582.6,2608 1575.5,2630 1552.4,2630 1545.3,2608"/>
<polygon points="1570.2,2579.2 1588.9,2592.7 1581.7,2614.6 1558.7,2614.6 1551.6,2592.7"/>
<polygon points="1576.5,2567.2 1595.1,2580.8 1588,2602.7 1565,2602.7 1557.8,2580.8"/>
<polygon points="1582.7,2556.2 1601.4,2569.7 1594.3,2591.6 1571.2,2591.6 1564.1,2569.7"/>
<polygon points="1589,2545.1 1607.7,2558.6 1600.5,2580.6 1577.5,2580.6 1570.4,2558.6"/>
<polygon points="1595.3,2534 1613.9,2547.6 1606.8,2569.5 1583.8,2569.5 1576.6,2547.6"/>
<polygon points="1601.6,2523 1620.2,2536.5 1613.1,2558.4 1590,2558.4 1582.9,2536.5"/>
<polygon points="1607.8,2514.1 1626.5,2527.7 1619.3,2549.6 1596.3,2549.6 1589.2,2527.7"/>
<polygon points="1614.1,2525.4 1632.7,2538.9 1625.6,2560.8 1602.6,2560.8 1595.4,2538.9"/>
<polygon points="1620.4,2536.6 1639,2550.1 1631.9,2572.1 1608.8,2572.1 1601.7,2550.1"/>
<polygon points="1626.6,2547.8 1645.3,2561.4 1638.1,2583.3 1615.1,2583.3 1608,2561.4"/>
<polygon points="1632.9,2570.6 1651.5,2584.1 1644.4,2606.1 1621.4,2606.1 1614.2,2584.1"/>
<polygon points="1639.2,2593.4 1657.8,2606.9 1650.7,2628.8 1627.6,2628.8 1620.5,2606.9"/>
<polygon points="1645.4,2616.1 1664.1,2629.7 1656.9,2651.6 1633.9,2651.6 1626.8,2629.7"/>
<polygon points="1651.7,2640.3 1670.3,2653.8 1663.2,2675.7 1640.2,2675.7 1633.1,2653.8"/>
<polygon points="1658,2664.4 1676.6,2678 1669.5,2699.9 1646.4,2699.9 1639.3,2678"/>
<polygon points="1664.2,2688.6 1682.9,2702.1 1675.7,2724 1652.7,2724 1645.6,2702.1"/>
<polygon points="1670.5,2712.7 1689.1,2726.2 1682,2748.1 1659,2748.1 1651.9,2726.2"/>
<polygon points="1676.8,2738.6 1695.4,2752.1 1688.3,2774.1 1665.2,2774.1 1658.1,2752.1"/>
<polygon points="1683,2764.5 1701.7,2778 1694.6,2800 1671.5,2800 1664.4,2778"/>
<polygon points="1689.3,2790.4 1707.9,2803.9 1700.8,2825.9 1677.8,2825.9 1670.7,2803.9"/>
<polygon points="1695.6,2816.3 1714.2,2829.9 1707.1,2851.8 1684,2851.8 1676.9,2829.9"/>
<polygon points="1701.8,2842.2 1720.5,2855.8 1713.4,2877.7 1690.3,2877.7 1683.2,2855.8"/>
<polygon points="1708.1,2854.6 1726.7,2868.1 1719.6,2890 1696.6,2890 1689.5,2868.1"/>
<polygon points="1714.4,2866.9 1733,2880.5 1725.9,2902.4 1702.9,2902.4 1695.7,2880.5"/>
<polygon points="1720.6,2879.3 1739.3,2892.8 1732.2,2914.8 1709.1,2914.8 1702,2892.8"/>
<polygon points="1726.9,2891.7 1745.5,2905.2 1738.4,2927.1 1715.4,2927.1 1708.3,2905.2"/>
<polygon points="1733.2,2902.3 1751.8,2915.8 1744.7,2937.7 1721.7,2937.7 1714.5,2915.8"/>
<polygon points="1739.4,2912.9 1758.1,2926.4 1751,2948.3 1727.9,2948.3 1720.8,2926.4"/>
<polygon points="1745.7,2923.5 1764.4,2937 1757.2,2958.9 1734.2,2958.9 1727.1,2937"/>
<polygon points="1752,2934.1 1770.6,2947.6 1763.5,2969.5 1740.5,2969.5 1733.3,2947.6"/>
<polygon points="1783.3,2964.7 1802,2978.2 1794.8,3000.1 1771.8,3000.1 1764.7,2978.2"/>
<polygon points="1814.7,3000 1833.3,3013.5 1826.2,3035.5 1803.1,3035.5 1796,3013.5"/>
<polygon points="1846,3030.6 1864.6,3044.2 1857.5,3066.1 1834.5,3066.1 1827.4,3044.2"/>
<polygon points="1877.3,3051.8 1896,3065.4 1888.9,3087.3 1865.8,3087.3 1858.7,3065.4"/>
<polygon points="1908.7,3068.3 1927.3,3081.8 1920.2,3103.8 1897.2,3103.8 1890,3081.8"/>
<polygon points="1940,3082.4 1958.7,3096 1951.5,3117.9 1928.5,3117.9 1921.4,3096"/>
<polygon points="1971.4,3091.8 1990,3105.4 1982.9,3127.3 1959.8,3127.3 1952.7,3105.4"/>
<polygon points="2002.7,3102.2 2021.3,3115.8 2014.2,3137.7 1991.2,3137.7 1984.1,3115.8"/>
<polygon points="2034,3110.7 2052.7,3124.2 2045.6,3146.1 2022.5,3146.1 2015.4,3124.2"/>
<polygon points="2065.4,3117.8 2084,3131.3 2076.9,3153.2 2053.9,3153.2 2046.7,3131.3"/>
<polygon points="2096.7,3122.5 2115.4,3136 2108.2,3157.9 2085.2,3157.9 2078.1,3136"/>
<polygon points="2128.1,3127.2 2146.7,3140.7 2139.6,3162.6 2116.5,3162.6 2109.4,3140.7"/>
</g>
<g fill="#0000ff" stroke="none">
<polyline fill="none" stroke="#0000ff" stroke-width="7.2" stroke-linejoin="round" points="373.1,3184.4 404.4,3183.7 435.7,3183 467.1,3182.3 498.4,3181.6 529.7,3180.8 561.1,3180 592.4,3178.3 623.8,3176.7 655.1,3174.3 686.4,3170.3 717.8,3167 749.1,3162.1 780.5,3155.7 811.8,3148.9 843.1,3135.2 874.5,3119.5 905.8,3099.9 968.5,3061.5 999.8,3029.3 1031.2,3001.9 1062.5,2978.4 1093.9,2954.1 1125.2,2935.3 1156.5,2917.6 1187.9,2905.9 1219.2,2894.1 1250.6,2886.3 1281.9,2878.5 1313.2,2872.6 1344.6,2862.8 1375.9,2852.2 1407.2,2833.3 1438.6,2811.9 1469.9,2784.6 1501.3,2760.6 1507.5,2750.7 1513.8,2740.8 1520.1,2730.9 1526.3,2721 1532.6,2711.1 1538.9,2701.2 1545.1,2691.3 1551.4,2681.4 1557.7,2671.5 1563.9,2661.6 1570.2,2652.2 1576.5,2642.7 1582.7,2633.3 1589,2623.8 1595.3,2614.4 1601.6,2604.9 1607.8,2595.5 1614.1,2590.4 1620.4,2595.4 1626.6,2600.4 1632.9,2610.6 1639.2,2620.8 1645.4,2631 1651.7,2654.6 1658,2678.1 1664.2,2701.7 1670.5,2725.2 1676.8,2751.6 1683,2778 1689.3,2804.4 1695.6,2830.7 1701.8,2857.1 1708.1,2870.1 1714.4,2883 1720.6,2896 1726.9,2908.9 1733.2,2920.1 1739.4,2931.3 1745.7,2942.5 1752,2953.7 1783.3,2988 1814.7,3025.7 1846,3057.5 1877.3,3078.7 1908.7,3094.7 1940,3108.1 1971.4,3118.5 2002.7,3128.2 2034,3135.2 2065.4,3142.3 2096.7,3147.7 2128.1,3151"/>
<polygon points="373.1,3160.9 393.1,3196.9 353.1,3196.9"/>
<polygon points="404.4,3160.2 424.4,3196.2 384.4,3196.2"/>
<polygon points="435.7,3159.5 455.7,3195.5 415.7,3195.5"/>
<polygon points="467.1,3158.8 487.1,3194.8 447.1,3194.8"/>
<polygon points="498.4,3158.1 518.4,3194.1 478.4,3194.1"/>
<polygon points="529.7,3157.3 549.7,3193.3 509.7,3193.3"/>
<polygon points="561.1,3156.5 581.1,3192.5 541.1,3192.5"/>
<polygon points="592.4,3154.8 612.4,3190.8 572.4,3190.8"/>
<polygon points="623.8,3153.2 643.8,3189.2 603.8,3189.2"/>
<polygon points="655.1,3150.8 675.1,3186.8 635.1,3186.8"/>
<polygon points="686.4,3146.8 706.4,3182.8 666.4,3182.8"/>
<polygon points="717.8,3143.5 737.8,3179.5 697.8,3179.5"/>
<polygon points="749.1,3138.6 769.1,3174.6 729.1,3174.6"/>
<polygon points="780.5,3132.2 800.5,3168.2 760.5,3168.2"/>
<polygon points="811.8,3125.4 831.8,3161.4 791.8,3161.4"/>
<polygon points="843.1,3111.7 863.1,3147.7 823.1,3147.7"/>
<polygon points="874.5,3096 894.5,3132 854.5,3132"/>
<polygon points="905.8,3076.4 925.8,3112.4 885.8,3112.4"/>
<polygon points="968.5,3038 988.5,3074 948.5,3074"/>
<polygon points="999.8,3005.8 1019.8,3041.8 979.8,3041.8"/>
<polygon points="1031.2,2978.4 1051.2,3014.4 1011.2,3014.4"/>
<polygon points="1062.5,2954.9 1082.5,2990.9 1042.5,2990.9"/>
<polygon points="1093.9,2930.6 1113.9,2966.6 1073.9,2966.6"/>
<polygon points="1125.2,2911.8 1145.2,2947.8 1105.2,2947.8"/>
<polygon points="1156.5,2894.1 1176.5,2930.1 1136.5,2930.1"/>
<polygon points="1187.9,2882.4 1207.9,2918.4 1167.9,2918.4"/>
<polygon points="1219.2,2870.6 1239.2,2906.6 1199.2,2906.6"/>
<polygon points="1250.6,2862.8 1270.6,2898.8 1230.6,2898.8"/>
<polygon points="1281.9,2855 1301.9,2891 1261.9,2891"/>
<polygon points="1313.2,2849.1 1333.2,2885.1 1293.2,2885.1"/>
<polygon points="1344.6,2839.3 1364.6,2875.3 1324.6,2875.3"/>
<polygon points="1375.9,2828.7 1395.9,2864.7 1355.9,2864.7"/>
<polygon points="1407.2,2809.8 1427.2,2845.8 1387.2,2845.8"/>
<polygon points="1438.6,2788.4 1458.6,2824.4 1418.6,2824.4"/>
<polygon points="1469.9,2761.1 1489.9,2797.1 1449.9,2797.1"/>
<polygon points="1501.3,2737.1 1521.3,2773.1 1481.3,2773.1"/>
<polygon points="1507.5,2727.2 1527.5,2763.2 1487.5,2763.2"/>
<polygon points="1513.8,2717.3 1533.8,2753.3 1493.8,2753.3"/>
<polygon points="1520.1,2707.4 1540.1,2743.4 1500.1,2743.4"/>
<polygon points="1526.3,2697.5 1546.3,2733.5 1506.3,2733.5"/>
<polygon points="1532.6,2687.6 1552.6,2723.6 1512.6,2723.6"/>
<polygon points="1538.9,2677.7 1558.9,2713.7 1518.9,2713.7"/>
<polygon points="1545.1,2667.8 1565.1,2703.8 1525.1,2703.8"/>
<polygon points="1551.4,2657.9 1571.4,2693.9 1531.4,2693.9"/>
<polygon points="1557.7,2648 1577.7,2684 1537.7,2684"/>
<polygon points="1563.9,2638.1 1583.9,2674.1 1543.9,2674.1"/>
<polygon points="1570.2,2628.7 1590.2,2664.7 1550.2,2664.7"/>
<polygon points="1576.5,2619.2 1596.5,2655.2 1556.5,2655.2"/>
<polygon points="1582.7,2609.8 1602.7,2645.8 1562.7,2645.8"/>
<polygon points="1589,2600.3 1609,2636.3 1569,2636.3"/>
<polygon points="1595.3,2590.9 1615.3,2626.9 1575.3,2626.9"/>
<polygon points="1601.6,2581.4 1621.6,2617.4 1581.6,2617.4"/>
<polygon points="1607.8,2572 1627.8,2608 1587.8,2608"/>
<polygon points="1614.1,2566.9 1634.1,2602.9 1594.1,2602.9"/>
<polygon points="1620.4,2571.9 1640.4,2607.9 1600.4,2607.9"/>
<polygon points="1626.6,2576.9 1646.6,2612.9 1606.6,2612.9"/>
<polygon points="1632.9,2587.1 1652.9,2623.1 1612.9,2623.1"/>
<polygon points="1639.2,2597.3 1659.2,2633.3 1619.2,2633.3"/>
<polygon points="1645.4,2607.5 1665.4,2643.5 1625.4,2643.5"/>
<polygon points="1651.7,2631.1 1671.7,2667.1 1631.7,2667.1"/>
<polygon points="1658,2654.6 1678,2690.6 1638,2690.6"/>
<polygon points="1664.2,2678.2 1684.2,2714.2 1644.2,2714.2"/>
<polygon points="1670.5,2701.7 1690.5,2737.7 1650.5,2737.7"/>
<polygon points="1676.8,2728.1 1696.8,2764.1 1656.8,2764.1"/>
<polygon points="1683,2754.5 1703,2790.5 1663,2790.5"/>
<polygon points="1689.3,2780.9 1709.3,2816.9 1669.3,2816.9"/>
<polygon points="1695.6,2807.2 1715.6,2843.2 1675.6,2843.2"/>
<polygon points="1701.8,2833.6 1721.8,2869.6 1681.8,2869.6"/>
<polygon points="1708.1,2846.6 1728.1,2882.6 1688.1,2882.6"/>
<polygon points="1714.4,2859.5 1734.4,2895.5 1694.4,2895.5"/>
<polygon points="1720.6,2872.5 1740.6,2908.5 1700.6,2908.5"/>
<polygon points="1726.9,2885.4 1746.9,2921.4 1706.9,2921.4"/>
<polygon points="1733.2,2896.6 1753.2,2932.6 1713.2,2932.6"/>
<polygon points="1739.4,2907.8 1759.4,2943.8 1719.4,2943.8"/>
<polygon points="1745.7,2919 1765.7,2955 1725.7,2955"/>
<polygon points="1752,2930.2 1772,2966.2 1732,2966.2"/>
<polygon points="1783.3,2964.5 1803.3,3000.5 1763.3,3000.5"/>
<polygon points="1814.7,3002.2 1834.7,3038.2 1794.7,3038.2"/>
<polygon points="1846,3034 1866,3070 1826,3070"/>
<polygon points="1877.3,3055.2 1897.3,3091.2 1857.3,3091.2"/>
<polygon points="1908.7,3071.2 1928.7,3107.2 1888.7,3107.2"/>
<polygon points="1940,3084.6 1960,3120.6 1920,3120.6"/>
<polygon points="1971.4,3095 1991.4,3131 1951.4,3131"/>
<polygon points="2002.7,3104.7 2022.7,3140.7 1982.7,3140.7"/>
<polygon points="2034,3111.7 2054,3147.7 2014,3147.7"/>
<polygon points="2065.4,3118.8 2085.4,3154.8 2045.4,3154.8"/>
<polygon points="2096.7,3124.2 2116.7,3160.2 2076.7,3160.2"/>
<polygon points="2128.1,3127.5 2148.1,3163.5 2108.1,3163.5"/>
</g>
<g fill="#008000" stroke="none">
<polyline fill="none" stroke="#008000" stroke-width="7.2" stroke-linejoin="round" points="373.1,3195 404.4,3194.9 435.7,3194.8 467.1,3194.7 498.4,3194.6 529.7,3193.9 561.1,3193.3 592.4,3192.6 623.8,3192 655.1,3190.9 686.4,3189.9 717.8,3188.7 749.1,3187.5 780.5,3185.4 811.8,3182.8 843.1,3177.9 874.5,3172.9 905.8,3166.3 937.2,3160 968.5,3152.4 999.8,3143.9 1031.2,3136.2 1062.5,3127.9 1093.9,3119.7 1125.2,3111.4 1156.5,3102.7 1187.9,3096.8 1219.2,3089.3 1250.6,3078.9 1281.9,3069.1 1313.2,3054.9 1344.6,3038.2 1375.9,3015.8 1407.2,2987.1 1438.6,2944.9 1469.9,2881.8 1501.3,2806 1512.7,2740.3 1522.4,2685.7 1532.2,2629.4 1541.4,2555.9 1551,2468.1 1560.2,2365.6 1570.1,2246.7 1579,2118.3 1587.9,1998.7 1598,1919.6 1608.1,1911.8 1617.1,1990.9 1626,2140 1635.4,2304.4 1644.9,2444.5 1654.6,2554.5 1663.7,2644.2 1673.5,2712.7 1683,2771.4 1692.1,2818.7 1701.8,2859.7 1711,2890.5 1720.5,2920 1729.7,2946.1 1739.4,2973.9 1752,3002.8 1783.3,3039.9 1814.7,3073.5 1846,3099 1877.3,3118.3 1908.7,3131.7 1940,3141.6 1971.4,3149.4 2002.7,3156.4 2034,3161.6 2065.4,3165.4 2096.7,3169.8 2128.1,3173.4"/>
<polygon points="373.1,3173.2 395.1,3195 373.1,3216.8 351.1,3195"/>
<polygon points="404.4,3173.1 426.4,3194.9 404.4,3216.7 382.4,3194.9"/>
<polygon points="435.7,3173 457.7,3194.8 435.7,3216.6 413.7,3194.8"/>
<polygon points="467.1,3172.9 489.1,3194.7 467.1,3216.5 445.1,3194.7"/>
<polygon points="498.4,3172.8 520.4,3194.6 498.4,3216.4 476.4,3194.6"/>
<polygon points="529.7,3172.1 551.7,3193.9 529.7,3215.7 507.7,3193.9"/>
<polygon points="561.1,3171.5 583.1,3193.3 561.1,3215.1 539.1,3193.3"/>
<polygon points="592.4,3170.8 614.4,3192.6 592.4,3214.4 570.4,3192.6"/>
<polygon points="623.8,3170.2 645.8,3192 623.8,3213.8 601.8,3192"/>
<polygon points="655.1,3169.1 677.1,3190.9 655.1,3212.7 633.1,3190.9"/>
<polygon points="686.4,3168.1 708.4,3189.9 686.4,3211.7 664.4,3189.9"/>
<polygon points="717.8,3166.9 739.8,3188.7 717.8,3210.5 695.8,3188.7"/>
<polygon points="749.1,3165.7 771.1,3187.5 749.1,3209.3 727.1,3187.5"/>
<polygon points="780.5,3163.6 802.5,3185.4 780.5,3207.2 758.5,3185.4"/>
<polygon points="811.8,3161 833.8,3182.8 811.8,3204.6 789.8,3182.8"/>
<polygon points="843.1,3156.1 865.1,3177.9 843.1,3199.7 821.1,3177.9"/>
<polygon points="874.5,3151.1 896.5,3172.9 874.5,3194.7 852.5,3172.9"/>
<polygon points="905.8,3144.5 927.8,3166.3 905.8,3188.1 883.8,3166.3"/>
<polygon points="937.2,3138.2 959.2,3160 937.2,3181.8 915.2,3160"/>
<polygon points="968.5,3130.6 990.5,3152.4 968.5,3174.2 946.5,3152.4"/>
<polygon points="999.8,3122.1 1021.8,3143.9 999.8,3165.7 977.8,3143.9"/>
<polygon points="1031.2,3114.4 1053.2,3136.2 1031.2,3158 1009.2,3136.2"/>
<polygon points="1062.5,3106.1 1084.5,3127.9 1062.5,3149.7 1040.5,3127.9"/>
<polygon points="1093.9,3097.9 1115.9,3119.7 1093.9,3141.5 1071.9,3119.7"/>
<polygon points="1125.2,3089.6 1147.2,3111.4 1125.2,3133.2 1103.2,3111.4"/>
<polygon points="1156.5,3080.9 1178.5,3102.7 1156.5,3124.5 1134.5,3102.7"/>
<polygon points="1187.9,3075 1209.9,3096.8 1187.9,3118.6 1165.9,3096.8"/>
<polygon points="1219.2,3067.5 1241.2,3089.3 1219.2,3111.1 1197.2,3089.3"/>
<polygon points="1250.6,3057.1 1272.6,3078.9 1250.6,3100.7 1228.6,3078.9"/>
<polygon points="1281.9,3047.3 1303.9,3069.1 1281.9,3090.9 1259.9,3069.1"/>
<polygon points="1313.2,3033.1 1335.2,3054.9 1313.2,3076.7 1291.2,3054.9"/>
<polygon points="1344.6,3016.4 1366.6,3038.2 1344.6,3060 1322.6,3038.2"/>
<polygon points="1375.9,2994 1397.9,3015.8 1375.9,3037.6 1353.9,3015.8"/>
<polygon points="1407.2,2965.3 1429.2,2987.1 1407.2,3008.9 1385.2,2987.1"/>
<polygon points="1438.6,2923.1 1460.6,2944.9 1438.6,2966.7 1416.6,2944.9"/>
<polygon points="1469.9,2860 1491.9,2881.8 1469.9,2903.6 1447.9,2881.8"/>
<polygon points="1501.3,2784.2 1523.3,2806 1501.3,2827.8 1479.3,2806"/>
<polygon points="1512.7,2718.5 1534.7,2740.3 1512.7,2762.1 1490.7,2740.3"/>
<polygon points="1522.4,2663.9 1544.4,2685.7 1522.4,2707.5 1500.4,2685.7"/>
<polygon points="1532.2,2607.6 1554.2,2629.4 1532.2,2651.2 1510.2,2629.4"/>
<polygon points="1541.4,2534.1 1563.4,2555.9 1541.4,2577.7 1519.4,2555.9"/>
<polygon points="1551,2446.3 1573,2468.1 1551,2489.9 1529,2468.1"/>
<polygon points="1560.2,2343.8 1582.2,2365.6 1560.2,2387.4 1538.2,2365.6"/>
<polygon points="1570.1,2224.9 1592.1,2246.7 1570.1,2268.5 1548.1,2246.7"/>
<polygon points="1579,2096.5 1601,2118.3 1579,2140.1 1557,2118.3"/>
<polygon points="1587.9,1976.9 1609.9,1998.7 1587.9,2020.5 1565.9,1998.7"/>
<polygon points="1598,1897.8 1620,1919.6 1598,1941.4 1576,1919.6"/>
<polygon points="1608.1,1890 1630.1,1911.8 1608.1,1933.6 1586.1,1911.8"/>
<polygon points="1617.1,1969.1 1639.1,1990.9 1617.1,2012.7 1595.1,1990.9"/>
<polygon points="1626,2118.2 1648,2140 1626,2161.8 1604,2140"/>
<polygon points="1635.4,2282.6 1657.4,2304.4 1635.4,2326.2 1613.4,2304.4"/>
<polygon points="1644.9,2422.7 1666.9,2444.5 1644.9,2466.3 1622.9,2444.5"/>
<polygon points="1654.6,2532.7 1676.6,2554.5 1654.6,2576.3 1632.6,2554.5"/>
<polygon points="1663.7,2622.4 1685.7,2644.2 1663.7,2666 1641.7,2644.2"/>
<polygon points="1673.5,2690.9 1695.5,2712.7 1673.5,2734.5 1651.5,2712.7"/>
<polygon points="1683,2749.6 1705,2771.4 1683,2793.2 1661,2771.4"/>
<polygon points="1692.1,2796.9 1714.1,2818.7 1692.1,2840.5 1670.1,2818.7"/>
<polygon points="1701.8,2837.9 1723.8,2859.7 1701.8,2881.5 1679.8,2859.7"/>
<polygon points="1711,2868.7 1733,2890.5 1711,2912.3 1689,2890.5"/>
<polygon points="1720.5,2898.2 1742.5,2920 1720.5,2941.8 1698.5,2920"/>
<polygon points="1729.7,2924.3 1751.7,2946.1 1729.7,2967.9 1707.7,2946.1"/>
<polygon points="1739.4,2952.1 1761.4,2973.9 1739.4,2995.7 1717.4,2973.9"/>
<polygon points="1752,2981 1774,3002.8 1752,3024.6 1730,3002.8"/>
<polygon points="1783.3,3018.1 1805.3,3039.9 1783.3,3061.7 1761.3,3039.9"/>
<polygon points="1814.7,3051.7 1836.7,3073.5 1814.7,3095.3 1792.7,3073.5"/>
<polygon points="1846,3077.2 1868,3099 1846,3120.8 1824,3099"/>
<polygon points="1877.3,3096.5 1899.3,3118.3 1877.3,3140.1 1855.3,3118.3"/>
<polygon points="1908.7,3109.9 1930.7,3131.7 1908.7,3153.5 1886.7,3131.7"/>
<polygon points="1940,3119.8 1962,3141.6 1940,3163.4 1918,3141.6"/>
<polygon points="1971.4,3127.6 1993.4,3149.4 1971.4,3171.2 1949.4,3149.4"/>
<polygon points="2002.7,3134.6 2024.7,3156.4 2002.7,3178.2 1980.7,3156.4"/>
<polygon points="2034,3139.8 2056,3161.6 2034,3183.4 2012,3161.6"/>
<polygon points="2065.4,3143.6 2087.4,3165.4 2065.4,3187.2 2043.4,3165.4"/>
<polygon points="2096.7,3148 2118.7,3169.8 2096.7,3191.6 2074.7,3169.8"/>
<polygon points="2128.1,3151.6 2150.1,3173.4 2128.1,3195.2 2106.1,3173.4"/>
</g>
</g>
<text class="tl" transform="translate(373.1 3326.8) scale(1 1.04)" text-anchor="middle">-10</text>
<text class="tl" transform="translate(623.8 3326.8) scale(1 1.04)" text-anchor="middle">-8</text>
<text class="tl" transform="translate(874.5 3326.8) scale(1 1.04)" text-anchor="middle">-6</text>
<text class="tl" transform="translate(1125.2 3326.8) scale(1 1.04)" text-anchor="middle">-4</text>
<text class="tl" transform="translate(1375.9 3326.8) scale(1 1.04)" text-anchor="middle">-2</text>
<text class="tl" transform="translate(1626.6 3326.8) scale(1 1.04)" text-anchor="middle">0</text>
<text class="tl" transform="translate(1877.3 3326.8) scale(1 1.04)" text-anchor="middle">2</text>
<text class="tl" transform="translate(2128.1 3326.8) scale(1 1.04)" text-anchor="middle">4</text>
<text class="tl" transform="translate(325.6 3234) scale(1 1.04)" text-anchor="end">0.00</text>
<text class="tl" transform="translate(325.6 2763) scale(1 1.04)" text-anchor="end">0.02</text>
<text class="tl" transform="translate(325.6 2292) scale(1 1.04)" text-anchor="end">0.04</text>
<text class="tl" transform="translate(325.6 1821) scale(1 1.04)" text-anchor="end">0.06</text>
<text class="xt" transform="translate(1259.8 1757.5) scale(1 1.02)" text-anchor="middle">H (kOe)</text>
<text class="xt" transform="translate(1259.8 3447.2) scale(1 1.02)" text-anchor="middle">H (kOe)</text>
<text class="yt" transform="translate(109 831) rotate(-90) scale(1 1.047)" text-anchor="middle">dM/dH (emu/g.Oe)</text>
<text class="yt" transform="translate(109 2522) rotate(-90) scale(1 1.047)" text-anchor="middle">dM/dH (emu/g.Oe)</text>
<text class="pl" transform="translate(849.7 250)" text-anchor="middle">(a)</text>
<text class="tt" transform="translate(864.5 392.5) scale(1 1.04)" text-anchor="middle">T = 300 K</text>
<text class="pl" transform="translate(741.6 1941.5)" text-anchor="middle">(b)</text>
<text class="tt" transform="translate(740.5 2086.5) scale(1 1.04)" text-anchor="middle">T = 10 K</text>
<g fill="#000000"><path d="M634.3 534.7h213" stroke="#000000" stroke-width="7.6" stroke-linecap="round"/><rect x="720" y="514.6" width="40.3" height="40.3"/></g>
<text class="tl" transform="translate(877 567.7) scale(1 1.04)" text-anchor="start">1:1.0</text>
<g fill="#ff0000"><path d="M634.3 651.8h213" stroke="#ff0000" stroke-width="7.6" stroke-linecap="round"/><circle cx="740.1" cy="651.8" r="22.2"/></g>
<text class="tl" transform="translate(877 684.8) scale(1 1.04)" text-anchor="start">1:1.5</text>
<g fill="#ff00ff"><path d="M634.3 768.9h213" stroke="#ff00ff" stroke-width="7.6" stroke-linecap="round"/><polygon points="740.1,742.5 765.2,760.7 755.6,790.3 724.6,790.3 715,760.7"/></g>
<text class="tl" transform="translate(877 801.9) scale(1 1.04)" text-anchor="start">1:2.0</text>
<g fill="#0000ff"><path d="M634.3 886h213" stroke="#0000ff" stroke-width="7.6" stroke-linecap="round"/><polygon points="740.1,855 766.7,902.6 713.5,902.6"/></g>
<text class="tl" transform="translate(877 919) scale(1 1.04)" text-anchor="start">1:2.5</text>
<g fill="#008000"><path d="M634.3 1003.1h213" stroke="#008000" stroke-width="7.6" stroke-linecap="round"/><polygon points="740.1,975.3 766.1,1003.1 740.1,1030.9 714.1,1003.1"/></g>
<text class="tl" transform="translate(877 1036.1) scale(1 1.04)" text-anchor="start">1:3.0</text>
<g fill="#000000"><path d="M514.3 2226.6h213" stroke="#000000" stroke-width="7.6" stroke-linecap="round"/><rect x="600" y="2206.4" width="40.3" height="40.3"/></g>
<text class="tl" transform="translate(757 2259.6) scale(1 1.04)" text-anchor="start">1:1.0</text>
<g fill="#ff0000"><path d="M514.3 2343.4h213" stroke="#ff0000" stroke-width="7.6" stroke-linecap="round"/><circle cx="620.1" cy="2343.4" r="22.2"/></g>
<text class="tl" transform="translate(757 2376.4) scale(1 1.04)" text-anchor="start">1:1.5</text>
<g fill="#ff00ff"><path d="M514.3 2460.2h213" stroke="#ff00ff" stroke-width="7.6" stroke-linecap="round"/><polygon points="620.1,2433.8 645.2,2452 635.6,2481.6 604.6,2481.6 595,2452"/></g>
<text class="tl" transform="translate(757 2493.2) scale(1 1.04)" text-anchor="start">1:2.0</text>
<g fill="#0000ff"><path d="M514.3 2577h213" stroke="#0000ff" stroke-width="7.6" stroke-linecap="round"/><polygon points="620.1,2546 646.7,2593.6 593.5,2593.6"/></g>
<text class="tl" transform="translate(757 2610) scale(1 1.04)" text-anchor="start">1:2.5</text>
<g fill="#008000"><path d="M514.3 2693.8h213" stroke="#008000" stroke-width="7.6" stroke-linecap="round"/><polygon points="620.1,2666 646.1,2693.8 620.1,2721.6 594.1,2693.8"/></g>
<text class="tl" transform="translate(757 2726.8) scale(1 1.04)" text-anchor="start">1:3.0</text>
</svg>
</body>
</html>
